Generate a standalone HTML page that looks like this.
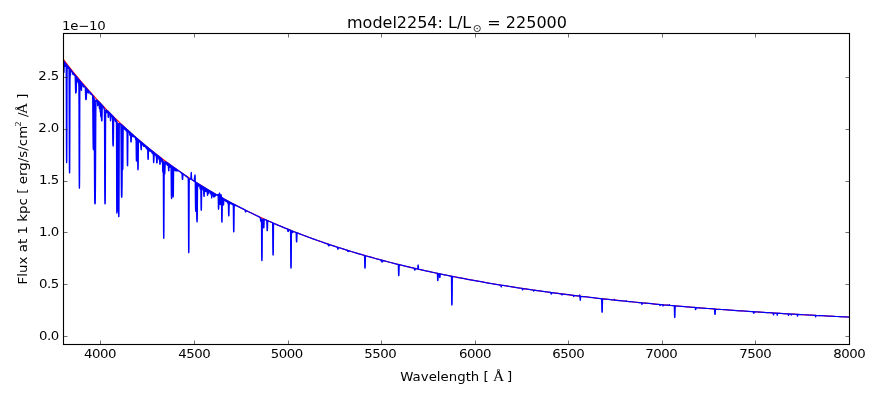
<!DOCTYPE html>
<html lang="en">
<head>
<meta charset="utf-8">
<title>model2254: L/L⊙ = 225000</title>
<style>
html,body{margin:0;padding:0;background:#fff;}
body{width:880px;height:400px;overflow:hidden;}
svg{display:block;}
text{font-family:"DejaVu Sans","Liberation Sans",sans-serif;font-size:13.33px;fill:#000;}
.t{font-size:16px;}
.s{font-family:"DejaVu Serif","Liberation Serif",serif;}
.a{font-family:"Liberation Serif","DejaVu Serif",serif;}
</style>
</head>
<body>
<svg width="880" height="400" viewBox="0 0 880 400">
<rect x="0" y="0" width="880" height="400" fill="#ffffff"/>
<clipPath id="c"><rect x="63.5" y="33.5" width="786.0" height="311.0"/></clipPath>
<g clip-path="url(#c)" fill="none" stroke-linejoin="round" stroke-linecap="butt">
<path d="M63.5,59.58 L65.5,62.19 L67.5,64.77 L69.5,67.31 L71.5,69.83 L73.5,72.32 L75.5,74.79 L77.5,77.22 L79.5,79.62 L81.5,82.00 L83.5,84.35 L85.5,86.68 L87.5,88.97 L89.5,91.25 L91.5,93.49 L93.5,95.71 L95.5,97.91 L97.5,100.08 L99.5,102.23 L101.5,104.35 L103.5,106.45 L105.5,108.52 L107.5,110.57 L109.5,112.60 L111.5,114.61 L113.5,116.60 L115.5,118.56 L117.5,120.50 L119.5,122.42 L121.5,124.32 L123.5,126.20 L125.5,128.06 L127.5,129.89 L129.5,131.71 L131.5,133.51 L133.5,135.29 L135.5,137.05 L137.5,138.79 L139.5,140.51 L141.5,142.21 L143.5,143.89 L145.5,145.56 L147.5,147.21 L149.5,148.84 L151.5,150.45 L153.5,152.05 L155.5,153.63 L157.5,155.19 L159.5,156.74 L161.5,158.27 L163.5,159.78 L165.5,161.28 L167.5,162.77 L169.5,164.23 L171.5,165.68 L173.5,167.12 L175.5,168.54 L177.5,169.95 L179.5,171.34 L181.5,172.72 L183.5,174.08 L185.5,175.43 L187.5,176.77 L189.5,178.09 L191.5,179.40 L193.5,180.70 L195.5,181.98 L197.5,183.25 L199.5,184.50 L201.5,185.75 L203.5,186.98 L205.5,188.19 L207.5,189.40 L209.5,190.60 L211.5,191.78 L213.5,192.95 L215.5,194.11 L217.5,195.25 L219.5,196.39 L221.5,197.51 L223.5,198.63 L225.5,199.73 L227.5,200.82 L229.5,201.90 L231.5,202.97 L233.5,204.03 L235.5,205.08 L237.5,206.11 L239.5,207.14 L241.5,208.16 L243.5,209.17 L245.5,210.17 L247.5,211.16 L249.5,212.14 L251.5,213.11 L253.5,214.07 L255.5,215.02 L257.5,215.96 L259.5,216.89 L261.5,217.82 L263.5,218.73 L265.5,219.64 L267.5,220.54 L269.5,221.42 L271.5,222.31 L273.5,223.18 L275.5,224.04 L277.5,224.90 L279.5,225.75 L281.5,226.59 L283.5,227.42 L285.5,228.24 L287.5,229.06 L289.5,229.87 L291.5,230.67 L293.5,231.46 L295.5,232.25 L297.5,233.03 L299.5,233.80 L301.5,234.57 L303.5,235.32 L305.5,236.07 L307.5,236.82 L309.5,237.56 L311.5,238.29 L313.5,239.01 L315.5,239.73 L317.5,240.44 L319.5,241.14 L321.5,241.84 L323.5,242.53 L325.5,243.22 L327.5,243.89 L329.5,244.57 L331.5,245.23 L333.5,245.89 L335.5,246.55 L337.5,247.20 L339.5,247.84 L341.5,248.48 L343.5,249.11 L345.5,249.74 L347.5,250.36 L349.5,250.97 L351.5,251.58 L353.5,252.19 L355.5,252.78 L357.5,253.38 L359.5,253.97 L361.5,254.55 L363.5,255.13 L365.5,255.70 L367.5,256.27 L369.5,256.83 L371.5,257.39 L373.5,257.94 L375.5,258.49 L377.5,259.03 L379.5,259.57 L381.5,260.11 L383.5,260.64 L385.5,261.16 L387.5,261.68 L389.5,262.20 L391.5,262.71 L393.5,263.22 L395.5,263.72 L397.5,264.22 L399.5,264.71 L401.5,265.21 L403.5,265.69 L405.5,266.17 L407.5,266.65 L409.5,267.13 L411.5,267.60 L413.5,268.06 L415.5,268.52 L417.5,268.98 L419.5,269.44 L421.5,269.89 L423.5,270.33 L425.5,270.78 L427.5,271.22 L429.5,271.65 L431.5,272.08 L433.5,272.51 L435.5,272.94 L437.5,273.36 L439.5,273.78 L441.5,274.19 L443.5,274.60 L445.5,275.01 L447.5,275.42 L449.5,275.82 L451.5,276.21 L453.5,276.61 L455.5,277.00 L457.5,277.39 L459.5,277.77 L461.5,278.16 L463.5,278.54 L465.5,278.91 L467.5,279.28 L469.5,279.65 L471.5,280.02 L473.5,280.38 L475.5,280.75 L477.5,281.10 L479.5,281.46 L481.5,281.81 L483.5,282.16 L485.5,282.51 L487.5,282.85 L489.5,283.19 L491.5,283.53 L493.5,283.87 L495.5,284.20 L497.5,284.53 L499.5,284.86 L501.5,285.19 L503.5,285.51 L505.5,285.83 L507.5,286.15 L509.5,286.46 L511.5,286.78 L513.5,287.09 L515.5,287.40 L517.5,287.70 L519.5,288.00 L521.5,288.31 L523.5,288.60 L525.5,288.90 L527.5,289.20 L529.5,289.49 L531.5,289.78 L533.5,290.06 L535.5,290.35 L537.5,290.63 L539.5,290.91 L541.5,291.19 L543.5,291.47 L545.5,291.74 L547.5,292.02 L549.5,292.29 L551.5,292.56 L553.5,292.82 L555.5,293.09 L557.5,293.35 L559.5,293.61 L561.5,293.87 L563.5,294.12 L565.5,294.38 L567.5,294.63 L569.5,294.88 L571.5,295.13 L573.5,295.38 L575.5,295.62 L577.5,295.87 L579.5,296.11 L581.5,296.35 L583.5,296.59 L585.5,296.82 L587.5,297.06 L589.5,297.29 L591.5,297.52 L593.5,297.75 L595.5,297.98 L597.5,298.20 L599.5,298.43 L601.5,298.65 L603.5,298.87 L605.5,299.09 L607.5,299.31 L609.5,299.53 L611.5,299.74 L613.5,299.95 L615.5,300.17 L617.5,300.38 L619.5,300.59 L621.5,300.79 L623.5,301.00 L625.5,301.20 L627.5,301.41 L629.5,301.61 L631.5,301.81 L633.5,302.01 L635.5,302.20 L637.5,302.40 L639.5,302.59 L641.5,302.79 L643.5,302.98 L645.5,303.17 L647.5,303.36 L649.5,303.54 L651.5,303.73 L653.5,303.91 L655.5,304.10 L657.5,304.28 L659.5,304.46 L661.5,304.64 L663.5,304.82 L665.5,305.00 L667.5,305.17 L669.5,305.35 L671.5,305.52 L673.5,305.69 L675.5,305.86 L677.5,306.03 L679.5,306.20 L681.5,306.37 L683.5,306.54 L685.5,306.70 L687.5,306.87 L689.5,307.03 L691.5,307.19 L693.5,307.35 L695.5,307.51 L697.5,307.67 L699.5,307.83 L701.5,307.99 L703.5,308.14 L705.5,308.30 L707.5,308.45 L709.5,308.60 L711.5,308.75 L713.5,308.90 L715.5,309.05 L717.5,309.20 L719.5,309.35 L721.5,309.49 L723.5,309.64 L725.5,309.78 L727.5,309.93 L729.5,310.07 L731.5,310.21 L733.5,310.35 L735.5,310.49 L737.5,310.63 L739.5,310.77 L741.5,310.90 L743.5,311.04 L745.5,311.18 L747.5,311.31 L749.5,311.44 L751.5,311.57 L753.5,311.71 L755.5,311.84 L757.5,311.97 L759.5,312.10 L761.5,312.22 L763.5,312.35 L765.5,312.48 L767.5,312.60 L769.5,312.73 L771.5,312.85 L773.5,312.97 L775.5,313.10 L777.5,313.22 L779.5,313.34 L781.5,313.46 L783.5,313.58 L785.5,313.70 L787.5,313.81 L789.5,313.93 L791.5,314.05 L793.5,314.16 L795.5,314.28 L797.5,314.39 L799.5,314.51 L801.5,314.62 L803.5,314.73 L805.5,314.84 L807.5,314.95 L809.5,315.06 L811.5,315.17 L813.5,315.28 L815.5,315.39 L817.5,315.49 L819.5,315.60 L821.5,315.70 L823.5,315.81 L825.5,315.91 L827.5,316.02 L829.5,316.12 L831.5,316.22 L833.5,316.32 L835.5,316.43 L837.5,316.53 L839.5,316.63 L841.5,316.72 L843.5,316.82 L845.5,316.92 L847.5,317.02 L849.5,317.11" stroke="#ff0000" stroke-width="1.1"/>
<path d="M63.50,67.65L63.55,69.68L63.60,71.06L63.65,71.82L63.70,72.15L63.75,72.27L63.80,72.33L63.85,72.40L63.90,72.42L63.95,72.22L64.00,71.59L64.05,70.33L64.10,68.42L64.15,66.15L64.20,64.11L64.25,62.79L64.30,62.21L64.35,62.08L64.40,62.11L64.45,62.17L64.50,62.25L64.55,62.35L64.60,62.51L64.65,62.74L64.70,63.07L64.75,63.48L64.80,63.94L64.85,64.40L64.90,64.82L64.95,65.18L65.00,65.61L65.05,66.05L65.10,66.27L65.15,66.38L65.20,66.44L65.25,66.39L65.30,66.20L65.35,66.14L65.50,66.26L65.55,66.25L65.60,66.17L65.65,66.02L65.70,65.80L65.75,65.50L65.80,65.16L65.85,64.83L65.90,64.54L65.95,64.34L66.00,64.23L66.05,64.26L66.10,64.95L66.15,67.42L66.20,73.48L66.25,85.87L66.30,104.44L66.35,124.79L66.40,141.82L66.45,153.33L66.50,159.54L66.55,161.99L66.60,162.59L66.65,162.67L66.70,162.67L66.75,162.14L66.80,159.78L66.85,153.64L66.90,141.93L66.95,124.48L67.00,103.97L67.05,85.51L67.10,73.48L67.15,68.08L67.20,66.51L67.25,66.37L67.30,66.59L67.35,66.78L67.40,66.94L67.45,67.24L67.50,67.51L67.55,67.69L67.70,67.94L67.75,68.11L67.80,68.27L67.85,68.31L67.90,68.26L67.95,68.09L68.00,67.75L68.05,67.31L68.10,67.01L68.15,66.84L68.20,66.80L68.35,66.95L68.50,67.14L68.55,67.20L68.60,67.27L68.65,67.40L68.70,67.83L68.75,68.24L68.80,68.38L68.85,68.44L68.90,68.48L68.95,68.44L69.00,69.21L69.05,73.15L69.10,82.71L69.15,98.84L69.20,119.19L69.25,139.20L69.30,154.98L69.35,165.12L69.40,170.35L69.45,172.38L69.50,172.89L69.55,172.95L69.60,172.96L69.65,172.53L69.70,170.58L69.75,165.45L69.80,155.50L69.85,140.19L69.90,121.11L69.95,102.06L70.00,87.39L70.05,79.10L70.10,75.84L70.15,74.98L70.20,74.90L70.35,75.09L70.40,75.12L70.45,75.05L70.50,74.86L70.55,74.36L70.60,73.45L70.65,72.32L70.70,71.30L70.75,70.58L70.80,70.17L70.85,70.08L71.60,70.98L71.65,71.04L71.70,71.12L71.75,71.27L71.80,71.40L71.95,71.59L72.00,71.58L72.05,71.58L72.10,71.67L72.25,72.14L72.30,72.29L72.35,72.42L72.50,72.67L72.55,72.74L72.60,72.84L72.65,73.33L72.70,73.97L72.75,74.21L72.80,74.26L72.85,74.25L72.90,73.92L72.95,73.26L73.00,72.96L73.05,72.90L73.10,72.89L73.15,72.90L73.20,72.95L73.25,73.15L73.30,73.56L73.35,73.80L73.40,73.88L73.45,73.94L73.50,73.90L73.55,73.64L73.60,73.46L73.65,73.53L73.70,73.67L73.75,73.86L73.90,74.56L73.95,74.73L74.00,74.86L74.15,75.10L74.30,75.27L74.35,75.32L74.40,75.34L74.55,75.29L74.60,75.25L74.65,75.15L74.80,75.00L74.85,74.96L74.90,75.00L74.95,75.08L75.00,75.20L75.05,75.42L75.10,75.85L75.15,76.58L75.20,77.73L75.25,79.30L75.30,81.22L75.35,83.33L75.40,85.42L75.45,87.34L75.50,89.16L75.55,90.94L75.60,92.10L75.65,92.70L75.70,93.04L75.75,93.06L75.80,92.66L75.85,92.35L75.90,92.36L75.95,92.42L76.00,92.46L76.05,92.47L76.10,92.38L76.15,92.16L76.20,91.84L76.25,91.35L76.30,90.36L76.35,88.90L76.40,87.12L76.45,85.05L76.50,82.80L76.55,80.85L76.60,79.39L76.65,78.37L76.70,77.76L76.75,77.47L76.80,77.42L76.85,77.59L76.90,78.01L76.95,78.64L77.00,79.34L77.05,79.94L77.10,80.36L77.15,80.61L77.30,80.95L77.35,81.35L77.40,81.69L77.45,81.73L77.50,81.60L77.55,81.25L77.60,80.49L77.65,79.56L77.70,78.96L77.75,78.64L77.80,78.52L77.85,78.53L78.00,78.69L78.15,78.89L78.20,79.02L78.25,79.38L78.30,80.06L78.35,80.98L78.40,81.95L78.45,82.79L78.50,83.33L78.55,83.59L78.60,83.70L78.75,83.92L78.80,84.15L78.85,85.23L78.90,89.06L78.95,98.27L79.00,113.98L79.05,134.00L79.10,153.88L79.15,169.73L79.20,180.06L79.25,185.49L79.30,187.61L79.35,188.13L79.40,188.19L79.45,188.15L79.50,187.60L79.55,185.53L79.60,180.22L79.65,169.88L79.70,153.75L79.75,133.31L79.80,112.59L79.85,96.40L79.90,87.27L79.95,84.09L80.00,83.94L80.05,84.59L80.10,85.18L80.15,85.66L80.20,85.97L80.25,86.08L80.30,86.14L80.35,86.18L80.40,86.10L80.45,85.88L80.50,85.61L80.55,85.14L80.60,84.41L80.65,83.54L80.70,82.76L80.75,82.29L80.80,82.21L80.85,82.60L80.90,83.52L80.95,84.90L81.00,86.43L81.05,87.73L81.10,88.63L81.15,89.13L81.20,89.35L81.25,89.45L81.30,89.64L81.35,90.11L81.40,90.41L81.45,90.34L81.50,89.96L81.55,89.09L81.60,87.54L81.65,85.76L81.70,84.44L81.75,83.61L81.80,83.26L81.85,83.20L82.00,83.35L82.05,83.40L82.10,83.49L82.15,83.77L82.20,84.11L82.25,84.24L82.30,84.30L82.35,84.34L82.40,84.22L82.45,83.98L82.50,83.92L82.85,84.33L82.90,84.45L82.95,84.81L83.10,86.24L83.15,86.62L83.20,86.77L83.25,86.74L83.40,86.90L83.45,86.96L83.50,87.00L83.55,87.01L83.60,86.94L83.65,86.77L83.70,86.47L83.75,86.18L83.80,86.18L83.85,86.27L84.00,86.31L84.05,86.11L84.10,85.83L84.15,85.80L84.50,86.19L84.55,86.25L84.60,86.33L84.65,86.55L84.70,86.81L84.75,86.92L84.80,86.98L84.85,87.02L84.90,86.95L84.95,86.78L85.00,86.76L85.05,86.83L85.10,86.93L85.15,87.10L85.20,87.42L85.25,87.95L85.30,88.78L85.35,89.91L85.40,91.28L85.45,92.79L85.50,94.29L85.55,95.65L85.60,96.79L85.65,97.68L85.70,98.32L85.75,98.87L85.80,99.30L85.85,99.51L85.90,99.60L85.95,99.66L86.00,99.61L86.05,99.48L86.10,99.45L86.15,99.46L86.20,99.42L86.25,99.27L86.30,98.95L86.35,98.43L86.40,97.66L86.45,96.63L86.50,95.38L86.55,94.00L86.60,92.61L86.65,91.35L86.70,90.34L86.75,89.63L86.80,89.21L86.85,89.01L86.90,88.95L86.95,88.98L87.10,89.26L87.25,89.55L87.30,89.70L87.35,89.96L87.50,90.99L87.55,91.32L87.60,91.60L87.65,91.82L87.70,92.00L87.75,92.13L87.90,92.36L88.05,92.54L88.10,92.72L88.15,92.95L88.20,93.05L88.25,93.06L88.30,93.03L88.35,92.87L88.40,92.56L88.55,91.85L88.60,91.60L88.65,91.39L88.70,91.22L88.75,91.12L88.80,91.08L88.85,91.08L88.90,91.11L88.95,91.18L89.00,91.45L89.05,91.81L89.10,91.97L89.15,92.03L89.20,92.07L89.25,91.96L89.30,91.68L89.35,91.59L89.70,91.97L89.85,92.13L89.90,92.21L89.95,92.42L90.00,92.82L90.05,93.21L90.10,93.53L90.15,93.81L90.20,93.95L90.25,93.91L90.30,93.87L90.45,94.03L90.50,94.08L90.55,94.11L90.60,94.11L90.65,94.03L90.70,93.87L90.75,93.67L90.80,93.48L90.85,93.35L90.90,93.32L91.05,93.46L91.40,93.86L91.55,94.04L91.60,94.10L91.65,94.27L91.70,94.58L91.75,94.77L91.80,94.84L91.85,94.89L91.90,94.87L91.95,94.70L92.00,94.59L92.35,95.02L92.50,95.23L92.55,95.37L92.60,95.71L92.65,96.54L92.70,98.37L92.75,101.96L92.80,107.43L92.85,114.10L92.90,121.52L92.95,128.95L93.00,135.41L93.05,140.37L93.10,144.11L93.15,146.68L93.20,148.19L93.25,148.96L93.30,149.29L93.35,149.42L93.40,149.50L93.45,149.57L93.50,149.59L93.55,149.40L93.60,148.79L93.65,147.44L93.70,145.02L93.75,141.26L93.80,136.06L93.85,129.65L93.90,122.63L93.95,115.99L94.00,110.92L94.05,108.46L94.10,109.22L94.15,113.26L94.20,120.19L94.25,129.31L94.30,139.84L94.35,150.97L94.40,161.90L94.45,171.97L94.50,180.71L94.55,187.87L94.60,193.42L94.65,197.57L94.70,200.47L94.75,202.25L94.80,203.25L94.85,203.75L94.90,203.89L94.95,203.83L95.00,203.81L95.05,203.83L95.10,203.79L95.15,203.62L95.20,203.17L95.25,202.23L95.30,200.55L95.35,197.89L95.40,194.10L95.45,188.99L95.50,182.11L95.55,173.54L95.60,163.63L95.65,152.73L95.70,141.36L95.75,130.66L95.80,121.43L95.85,113.94L95.90,108.36L95.95,104.59L96.00,102.30L96.05,101.05L96.10,100.45L96.15,100.19L96.20,100.09L96.35,100.04L96.50,100.06L96.55,100.07L96.60,100.08L96.65,100.25L96.70,100.71L96.75,101.00L96.80,101.06L96.85,101.08L96.90,100.99L96.95,100.62L97.00,100.30L97.05,100.28L97.20,100.38L97.25,100.42L97.30,100.53L97.35,100.80L97.40,101.36L97.45,102.17L97.50,103.07L97.55,103.87L97.60,104.68L97.65,105.40L97.70,105.68L97.75,105.76L97.80,105.78L97.85,105.62L97.90,105.20L97.95,104.94L98.00,104.71L98.05,104.26L98.10,103.57L98.15,102.76L98.20,102.03L98.25,101.57L98.30,101.47L98.45,101.66L98.50,101.70L98.55,101.67L98.60,101.60L98.65,101.61L98.80,101.75L98.95,101.91L99.00,102.02L99.05,102.27L99.10,102.76L99.15,103.55L99.20,104.71L99.25,106.15L99.30,107.29L99.35,108.01L99.40,108.45L99.45,108.60L99.50,108.40L99.55,108.20L99.70,108.31L99.75,108.30L99.80,108.25L99.85,108.19L99.90,108.27L99.95,108.57L100.00,109.11L100.05,109.79L100.10,110.50L100.15,111.16L100.20,111.68L100.25,112.00L100.30,112.16L100.35,112.23L100.40,112.27L100.45,112.31L100.50,112.44L100.55,112.76L100.60,113.41L100.65,114.37L100.70,115.44L100.75,116.27L100.80,116.65L100.85,116.62L100.90,116.42L100.95,116.26L101.00,116.27L101.05,116.38L101.10,116.45L101.15,116.50L101.20,116.51L101.25,116.39L101.30,116.17L101.35,116.22L101.40,116.83L101.45,117.96L101.50,119.18L101.55,120.07L101.60,120.54L101.65,120.73L101.80,120.88L101.85,120.97L101.90,120.95L101.95,120.61L102.00,119.66L102.05,117.79L102.10,114.94L102.15,111.63L102.20,108.66L102.25,106.71L102.30,105.84L102.35,105.62L102.40,105.63L102.55,105.81L102.60,105.87L102.65,105.95L102.70,106.14L102.75,106.38L102.80,106.50L102.85,106.57L102.90,106.63L102.95,106.60L103.00,106.48L103.05,106.46L103.40,106.97L103.75,107.56L103.80,107.70L103.85,108.11L103.90,108.55L103.95,108.74L104.00,108.85L104.05,108.92L104.10,108.79L104.15,108.52L104.20,108.52L104.25,108.67L104.30,108.96L104.35,109.76L104.40,111.89L104.45,116.61L104.50,124.96L104.55,137.02L104.60,151.54L104.65,166.39L104.70,179.53L104.75,189.71L104.80,196.68L104.85,200.87L104.90,202.94L104.95,203.74L105.00,203.96L105.05,203.97L105.10,203.87L105.15,203.64L105.20,202.90L105.25,200.93L105.30,196.93L105.35,190.10L105.40,180.03L105.45,167.00L105.50,152.29L105.55,137.93L105.60,126.07L105.65,118.03L105.70,113.78L105.75,112.16L105.80,111.81L105.85,111.82L105.90,111.88L105.95,112.16L106.00,112.57L106.05,112.71L106.10,112.70L106.15,112.59L106.20,112.19L106.25,111.42L106.30,110.81L106.35,110.48L106.40,110.31L106.45,110.28L106.60,110.33L106.75,110.42L106.80,110.53L106.85,110.76L107.00,111.77L107.05,112.27L107.10,112.59L107.15,112.66L107.20,112.70L107.25,112.65L107.30,112.33L107.35,111.95L107.40,111.73L107.45,111.48L107.50,111.22L107.55,111.08L107.60,111.07L107.65,111.20L107.80,111.90L107.85,112.07L107.90,112.25L107.95,112.61L108.00,113.34L108.05,114.41L108.10,115.58L108.15,116.54L108.20,117.13L108.25,117.34L108.30,117.31L108.35,117.22L108.40,117.19L108.45,117.20L108.50,117.21L108.55,117.12L108.60,116.82L108.65,116.22L108.70,115.32L108.75,114.30L108.80,113.49L108.85,113.08L108.90,113.01L109.05,113.25L109.20,113.39L109.25,113.41L109.30,113.37L109.35,113.25L109.40,113.08L109.45,112.93L109.50,112.93L109.55,113.02L109.70,113.18L109.75,113.18L109.80,113.13L109.85,113.16L109.90,113.28L109.95,113.55L110.00,113.97L110.05,114.45L110.10,114.90L110.15,115.42L110.20,116.16L110.25,117.18L110.30,118.28L110.35,119.22L110.40,119.94L110.45,120.55L110.50,120.75L110.55,120.51L110.60,120.16L110.65,119.84L110.70,119.42L110.75,118.99L110.80,118.66L110.85,118.11L110.90,117.25L110.95,116.25L111.00,115.35L111.05,114.83L111.10,114.80L111.15,115.15L111.20,115.63L111.25,116.04L111.30,116.29L111.35,116.42L111.50,116.60L111.55,116.66L111.60,116.65L111.65,116.47L111.70,116.14L111.75,115.74L111.80,115.41L111.85,115.29L111.90,115.42L111.95,115.69L112.00,115.99L112.05,116.24L112.10,116.40L112.15,116.49L112.30,116.66L112.35,116.75L112.40,116.94L112.45,117.47L112.50,118.71L112.55,121.04L112.60,124.60L112.65,129.01L112.70,133.58L112.75,137.64L112.80,140.79L112.85,142.93L112.90,144.19L112.95,144.83L113.00,145.12L113.05,145.29L113.10,145.51L113.15,145.80L113.20,146.03L113.25,146.01L113.30,145.54L113.35,144.39L113.40,142.40L113.45,139.64L113.50,136.01L113.55,131.62L113.60,127.20L113.65,123.39L113.70,120.44L113.75,118.46L113.80,117.61L113.85,117.40L113.90,117.39L114.05,117.55L114.10,117.63L114.15,117.77L114.20,118.00L114.25,118.31L114.30,118.63L114.35,119.05L114.40,119.39L114.45,119.52L114.50,119.59L114.55,119.62L114.60,119.52L114.65,119.30L114.70,119.19L114.75,119.07L114.80,118.89L114.85,118.72L114.90,118.65L114.95,118.69L115.00,118.87L115.05,119.22L115.10,119.69L115.15,120.12L115.20,120.43L115.25,120.61L115.40,120.88L115.45,121.19L115.50,121.56L115.55,121.60L115.60,121.39L115.65,121.05L115.70,120.58L115.75,120.05L115.80,119.88L115.95,120.10L116.10,120.36L116.25,120.63L116.30,120.75L116.35,121.14L116.40,122.85L116.45,128.30L116.50,139.97L116.55,157.46L116.60,176.80L116.65,193.27L116.70,204.32L116.75,210.17L116.80,212.48L116.85,213.06L116.90,213.16L116.95,213.19L117.00,212.74L117.05,210.65L117.10,205.34L117.15,195.76L117.20,182.92L117.25,170.88L117.30,165.09L117.35,168.12L117.40,177.56L117.45,188.67L117.50,198.08L117.55,204.57L117.60,208.37L117.65,210.25L117.70,210.96L117.75,211.07L117.80,211.03L117.85,211.03L117.90,210.88L117.95,210.21L118.00,208.39L118.05,204.66L118.10,198.35L118.15,189.09L118.20,177.02L118.25,163.53L118.30,151.57L118.35,145.54L118.40,149.32L118.45,162.75L118.50,180.69L118.55,196.88L118.60,207.95L118.65,213.82L118.70,216.10L118.75,216.63L118.80,216.66L118.85,216.62L118.90,216.08L118.95,213.78L119.00,207.89L119.05,196.70L119.10,180.06L119.15,160.72L119.20,143.35L119.25,131.70L119.30,126.29L119.35,124.63L119.40,124.11L119.45,123.72L119.50,123.62L119.85,123.70L120.20,123.85L120.35,123.93L120.50,124.08L120.65,124.16L120.70,124.18L120.75,124.28L120.80,124.59L120.85,125.35L120.90,127.01L120.95,130.08L121.00,134.97L121.05,141.77L121.10,150.13L121.15,159.44L121.20,168.78L121.25,177.14L121.30,184.00L121.35,189.24L121.40,192.84L121.45,195.00L121.50,196.22L121.55,196.86L121.60,197.12L121.65,197.20L121.70,197.23L121.75,197.26L121.80,197.23L121.85,197.05L121.90,196.49L121.95,195.23L122.00,192.95L122.05,189.33L122.10,184.15L122.15,177.41L122.20,169.79L122.25,162.87L122.30,158.66L122.35,158.17L122.40,160.52L122.45,163.74L122.50,166.28L122.55,167.68L122.60,168.24L122.65,168.50L122.70,168.88L122.75,169.37L122.80,169.55L122.85,168.80L122.90,166.31L122.95,161.34L123.00,153.86L123.05,145.07L123.10,137.09L123.15,131.67L123.20,128.94L123.25,127.75L123.30,127.06L123.35,126.60L123.40,126.41L123.45,126.49L123.50,126.78L123.55,127.20L123.60,127.59L123.65,127.87L123.70,128.03L123.75,128.11L123.90,128.24L123.95,128.25L124.00,128.38L124.05,128.52L124.10,128.33L124.15,128.03L124.20,127.84L124.25,127.64L124.30,127.29L124.35,127.14L124.50,127.27L124.55,127.32L124.60,127.48L124.65,127.91L124.70,128.47L124.75,129.00L124.80,129.42L124.85,129.64L124.90,129.62L124.95,129.51L125.10,129.59L125.15,129.54L125.20,129.36L125.25,129.03L125.30,128.61L125.35,128.29L125.40,128.14L125.45,128.12L125.60,128.25L125.65,128.30L125.70,128.35L125.75,128.50L125.80,129.06L125.85,129.76L125.90,130.31L125.95,130.75L126.00,130.99L126.05,130.85L126.10,130.52L126.15,130.46L126.20,130.51L126.25,130.54L126.30,130.52L126.35,130.40L126.40,130.13L126.45,129.75L126.50,129.41L126.55,129.25L126.60,129.37L126.65,129.73L126.70,130.26L126.75,130.79L126.80,131.18L126.85,131.36L126.90,131.44L126.95,131.60L127.00,132.27L127.05,134.38L127.10,138.85L127.15,145.48L127.20,152.70L127.25,158.69L127.30,162.59L127.35,164.60L127.40,165.39L127.45,165.61L127.50,165.67L127.55,165.75L127.60,165.76L127.65,165.23L127.70,163.37L127.75,159.46L127.80,153.59L127.85,146.58L127.90,140.02L127.95,135.62L128.00,133.57L128.05,132.72L128.10,132.17L128.15,131.84L128.20,131.52L128.25,131.15L128.30,130.90L128.35,130.90L128.40,131.11L128.55,132.05L128.60,132.27L128.65,132.35L128.70,132.40L128.75,132.41L128.80,132.33L128.85,132.20L128.90,132.10L128.95,131.94L129.00,131.72L129.05,131.54L129.10,131.45L129.15,131.45L129.30,131.58L129.35,131.63L129.40,131.67L129.45,131.76L129.50,131.96L129.55,132.41L129.60,133.11L129.65,134.05L129.70,134.76L129.75,135.05L129.80,135.15L129.85,135.16L129.90,134.94L129.95,134.65L130.00,134.55L130.05,134.39L130.10,134.02L130.15,133.48L130.20,132.95L130.25,132.61L130.30,132.53L130.35,132.71L130.40,133.00L130.45,133.15L130.50,133.34L130.55,133.81L130.60,134.68L130.65,135.94L130.70,137.59L130.75,139.25L130.80,140.54L130.85,141.36L130.90,141.76L130.95,141.93L131.00,141.99L131.05,142.03L131.10,142.03L131.15,141.88L131.20,141.39L131.25,140.38L131.30,138.81L131.35,136.95L131.40,135.36L131.45,134.56L131.50,134.60L131.55,135.13L131.60,135.55L131.65,135.76L131.70,135.85L131.75,135.85L131.80,135.71L131.85,135.61L131.90,135.59L131.95,135.51L132.00,135.27L132.05,134.91L132.10,134.53L132.15,134.28L132.20,134.20L132.35,134.31L132.40,134.37L132.45,134.48L132.50,134.74L132.55,135.18L132.60,135.70L132.65,136.13L132.70,136.40L132.75,136.53L132.90,136.69L132.95,136.71L133.00,136.73L133.05,136.84L133.10,136.71L133.15,136.33L133.20,136.07L133.25,136.06L133.30,136.07L133.35,136.11L133.40,136.29L133.45,136.43L133.60,136.60L133.65,136.64L133.70,136.65L133.75,136.59L133.80,136.44L133.85,136.19L133.90,135.95L133.95,135.80L134.00,135.77L134.15,135.89L134.20,135.95L134.25,136.04L134.30,136.23L134.35,136.49L134.40,136.75L134.45,136.94L134.50,137.07L134.55,137.15L134.70,137.28L134.75,137.30L134.80,137.26L134.85,137.15L134.90,136.98L134.95,136.81L135.00,136.71L135.05,136.69L135.20,136.81L135.25,136.86L135.30,136.92L135.35,137.04L135.40,137.36L135.45,137.92L135.50,138.58L135.55,139.14L135.60,139.49L135.65,139.65L135.80,139.81L135.85,139.82L135.90,139.75L135.95,139.56L136.00,139.47L136.05,140.18L136.10,142.50L136.15,146.54L136.20,151.43L136.25,155.74L136.30,158.66L136.35,160.28L136.40,160.96L136.45,161.02L136.50,160.87L136.55,160.84L136.60,160.76L136.65,160.25L136.70,158.88L136.75,156.21L136.80,152.17L136.85,147.38L136.90,143.03L136.95,140.15L137.00,138.85L137.05,138.50L137.10,138.50L137.25,138.65L137.30,138.70L137.35,138.76L137.40,138.96L137.45,139.48L137.50,140.55L137.55,142.74L137.60,146.69L137.65,152.29L137.70,158.37L137.75,163.52L137.80,166.99L137.85,168.82L137.90,169.56L137.95,169.77L138.00,169.57L138.05,169.16L138.10,168.62L138.15,167.66L138.20,165.62L138.25,162.07L138.30,157.00L138.35,151.19L138.40,146.13L138.45,142.95L138.50,141.63L138.55,141.35L138.70,141.45L138.75,141.49L138.80,141.51L138.85,141.45L138.90,141.27L138.95,140.96L139.00,140.60L139.05,140.33L139.10,140.23L139.15,140.36L139.20,140.80L139.25,141.10L139.30,141.19L139.35,141.23L139.40,141.19L139.45,140.93L139.50,140.80L139.55,141.08L139.60,141.48L139.65,141.81L139.70,142.02L139.75,142.13L139.90,142.27L139.95,142.30L140.00,142.27L140.05,142.13L140.10,141.88L140.15,141.60L140.20,141.47L140.25,141.66L140.30,142.10L140.35,142.58L140.40,142.93L140.45,143.12L140.60,143.36L140.65,143.56L140.70,143.93L140.75,144.51L140.80,145.28L140.85,146.19L140.90,147.12L140.95,147.97L141.00,148.62L141.05,149.01L141.10,149.29L141.15,149.65L141.20,149.77L141.25,149.57L141.30,149.25L141.35,148.80L141.40,148.01L141.45,146.99L141.50,145.89L141.55,144.68L141.60,143.67L141.65,143.22L141.70,143.36L141.75,143.77L141.80,144.14L141.85,144.37L141.90,144.47L141.95,144.53L142.00,144.60L142.05,144.84L142.10,145.11L142.15,145.10L142.20,144.86L142.25,144.44L142.30,143.85L142.35,143.25L142.40,143.03L142.45,143.03L142.50,143.07L142.55,143.14L142.60,143.27L142.65,143.54L142.70,143.91L142.75,144.27L142.80,144.52L142.85,144.67L142.90,144.74L143.05,144.87L143.10,144.87L143.15,144.80L143.20,144.62L143.25,144.47L143.30,144.40L143.35,144.34L143.40,144.43L143.45,144.77L143.50,145.24L143.55,145.62L143.60,145.95L143.65,146.19L143.70,146.30L143.85,146.43L143.90,146.42L143.95,146.30L144.00,145.99L144.05,145.51L144.10,145.01L144.15,144.66L144.20,144.56L144.25,144.64L144.30,144.91L144.35,145.31L144.40,145.73L144.45,146.05L144.50,146.24L144.55,146.33L144.70,146.46L144.75,146.46L144.80,146.39L144.85,146.19L144.90,145.88L144.95,145.56L145.00,145.41L145.05,145.54L145.10,145.86L145.15,146.22L145.20,146.49L145.25,146.69L145.30,146.84L145.35,146.92L145.40,146.96L145.45,146.99L145.50,146.97L145.55,146.83L145.60,146.62L145.65,146.35L145.70,146.10L145.75,146.02L145.80,146.21L145.85,146.57L145.90,146.99L145.95,147.55L146.00,147.98L146.05,148.12L146.10,148.17L146.15,148.17L146.20,147.97L146.25,147.63L146.30,147.45L146.35,147.25L146.40,146.96L146.45,146.67L146.50,146.51L146.55,146.60L146.60,146.86L146.65,147.00L146.70,147.05L146.75,147.12L146.80,147.23L146.85,147.43L146.90,147.93L146.95,148.54L147.00,148.99L147.05,149.24L147.10,149.35L147.15,149.40L147.20,149.49L147.25,149.63L147.30,149.65L147.35,149.49L147.40,149.12L147.45,148.54L147.50,147.89L147.55,147.51L147.60,147.57L147.65,148.18L147.70,149.54L147.75,151.57L147.80,153.86L147.85,155.92L147.90,157.48L147.95,158.47L148.00,158.99L148.05,159.21L148.10,159.33L148.15,159.41L148.20,159.40L148.25,159.18L148.30,158.55L148.35,157.25L148.40,155.22L148.45,152.79L148.50,150.55L148.55,149.05L148.60,148.38L148.65,148.21L148.70,148.21L148.75,148.25L148.80,148.33L148.85,148.52L148.90,148.89L148.95,149.40L149.00,149.87L149.05,150.26L149.10,150.61L149.15,150.78L149.20,150.83L149.25,150.87L149.30,150.85L149.35,150.66L149.40,150.40L149.45,150.09L149.50,149.67L149.55,149.28L149.60,149.06L149.65,149.00L149.80,149.10L149.85,149.19L149.90,149.47L149.95,149.83L150.00,150.18L150.05,150.62L150.10,151.05L150.15,151.21L150.20,151.15L150.35,151.26L150.40,151.29L150.45,151.29L150.50,151.20L150.55,150.97L150.60,150.64L150.65,150.31L150.70,150.08L150.75,150.00L150.90,150.02L151.05,150.13L151.10,150.25L151.15,150.50L151.20,150.89L151.25,151.30L151.30,151.62L151.35,151.80L151.40,151.90L151.45,152.03L151.50,152.17L151.55,152.24L151.60,152.25L151.65,152.18L151.70,151.94L151.75,151.52L151.80,151.14L151.85,150.91L151.90,150.86L151.95,150.97L152.00,151.27L152.05,151.71L152.10,152.15L152.15,152.52L152.20,152.97L152.25,153.36L152.30,153.49L152.35,153.54L152.40,153.54L152.45,153.34L152.50,152.90L152.65,151.82L152.70,151.58L152.75,151.51L152.90,151.60L153.05,151.74L153.10,151.87L153.15,152.18L153.20,152.71L153.25,153.40L153.30,154.34L153.35,155.69L153.40,157.47L153.45,159.36L153.50,160.96L153.55,162.03L153.60,162.58L153.65,162.69L153.70,162.49L153.75,162.09L153.80,161.65L153.85,161.27L153.90,160.92L153.95,160.37L154.00,159.36L154.05,157.91L154.10,156.34L154.15,155.09L154.20,154.45L154.25,154.34L154.30,154.43L154.35,154.51L154.40,154.56L154.45,154.59L154.50,154.58L154.55,154.54L154.60,154.45L154.65,154.25L154.70,153.92L154.75,153.55L154.80,153.29L154.85,153.19L154.90,153.20L154.95,153.24L155.00,153.28L155.05,153.36L155.10,153.54L155.15,153.93L155.20,154.43L155.25,154.83L155.30,155.09L155.35,155.22L155.40,155.25L155.45,155.22L155.50,155.23L155.55,155.26L155.60,155.24L155.65,155.11L155.70,154.85L155.75,154.50L155.80,154.19L155.85,154.03L155.90,154.00L155.95,154.03L156.00,154.09L156.05,154.28L156.10,154.90L156.15,155.82L156.20,156.56L156.25,157.06L156.30,157.32L156.35,157.29L156.40,157.15L156.45,157.49L156.50,158.49L156.55,159.94L156.60,161.44L156.65,162.50L156.70,162.93L156.75,162.87L156.80,162.67L156.85,162.57L156.90,162.56L156.95,162.68L157.00,162.88L157.05,162.84L157.10,162.40L157.15,161.51L157.20,160.17L157.25,158.61L157.30,157.48L157.35,157.09L157.40,157.15L157.45,157.33L157.50,157.46L157.65,157.60L157.70,157.62L157.75,157.55L157.80,157.32L157.85,156.91L157.90,156.39L157.95,156.05L158.00,156.21L158.05,156.69L158.10,157.19L158.15,157.63L158.20,157.89L158.25,157.86L158.30,157.70L158.35,157.68L158.40,157.72L158.45,157.75L158.50,157.73L158.55,157.61L158.60,157.43L158.65,157.39L158.70,157.39L158.75,157.46L158.90,157.93L158.95,158.26L159.00,158.85L159.05,159.37L159.10,159.68L159.15,159.79L159.20,159.74L159.25,159.58L159.40,159.02L159.45,158.78L159.50,158.51L159.55,158.48L159.60,159.02L159.65,160.14L159.70,161.47L159.75,162.61L159.80,163.37L159.85,163.81L159.90,164.14L159.95,164.37L160.00,164.41L160.05,164.35L160.10,164.16L160.15,163.71L160.20,162.99L160.25,162.17L160.30,161.19L160.35,160.24L160.40,159.67L160.45,159.61L160.50,159.86L160.55,160.14L160.60,160.30L160.65,160.41L160.70,160.64L160.75,160.87L160.80,160.93L160.85,160.86L160.90,160.60L160.95,160.00L161.00,159.19L161.05,158.63L161.10,158.38L161.15,158.33L161.30,158.46L161.35,158.51L161.40,158.57L161.45,158.69L161.50,158.98L161.55,159.52L161.60,160.22L161.65,160.83L161.70,161.23L161.85,161.97L161.90,162.07L161.95,162.11L162.00,162.04L162.05,161.68L162.10,161.05L162.15,160.42L162.20,159.93L162.25,159.69L162.30,159.66L162.35,159.74L162.40,159.93L162.45,160.48L162.50,161.86L162.55,163.96L162.60,166.26L162.65,168.45L162.70,170.19L162.75,171.23L162.80,171.67L162.85,171.99L162.90,172.20L162.95,172.29L163.00,172.27L163.05,172.08L163.10,171.70L163.15,171.20L163.20,170.83L163.25,171.36L163.30,174.58L163.35,182.53L163.40,195.21L163.45,209.77L163.50,222.48L163.55,231.16L163.60,235.80L163.65,237.65L163.70,238.11L163.75,238.20L163.80,238.25L163.85,237.83L163.90,235.93L163.95,231.06L164.00,221.85L164.05,208.15L164.10,192.22L164.15,178.17L164.20,169.41L164.25,166.38L164.30,167.02L164.35,169.03L164.40,171.06L164.45,172.55L164.50,173.42L164.55,173.82L164.60,173.93L164.65,173.94L164.70,173.91L164.75,173.85L164.80,173.66L164.85,173.19L164.90,172.33L164.95,171.08L165.00,169.60L165.05,168.01L165.10,166.39L165.15,164.92L165.20,163.78L165.25,163.09L165.30,162.79L165.35,162.69L165.50,162.67L165.55,162.60L165.60,162.47L165.65,162.28L165.70,162.10L165.75,161.99L165.80,161.96L165.95,162.02L166.00,162.05L166.05,162.23L166.10,162.68L166.15,163.15L166.20,163.55L166.25,163.89L166.30,164.03L166.35,163.88L166.40,163.72L166.55,163.77L166.60,163.73L166.65,163.59L166.70,163.33L166.75,162.99L166.80,162.71L166.85,162.57L166.90,162.55L167.05,162.65L167.10,162.86L167.15,163.39L167.20,164.03L167.25,164.68L167.30,165.22L167.35,165.49L167.40,165.41L167.45,165.32L167.60,165.38L167.65,165.30L167.70,165.06L167.75,164.61L167.80,164.04L167.85,163.61L167.90,163.43L167.95,163.40L168.00,163.42L168.05,163.44L168.10,163.43L168.15,163.39L168.20,163.42L168.25,163.57L168.30,164.02L168.35,164.97L168.40,166.37L168.45,167.86L168.50,169.06L168.55,169.82L168.60,170.28L168.65,170.62L168.70,170.78L168.75,170.82L168.80,170.80L168.85,170.61L168.90,170.07L168.95,169.27L169.00,168.29L169.05,167.17L169.10,166.06L169.15,165.20L169.20,164.87L169.25,165.21L169.30,166.09L169.35,166.87L169.40,167.26L169.45,167.43L169.50,167.45L169.55,167.25L169.60,167.01L169.65,166.95L169.70,166.86L169.75,166.58L169.80,166.08L169.85,165.47L169.90,164.97L169.95,164.72L170.00,164.67L170.15,164.77L170.20,164.91L170.25,165.18L170.30,165.59L170.35,166.15L170.40,166.73L170.45,167.11L170.50,167.23L170.65,167.36L170.70,167.39L170.75,167.37L170.80,167.25L170.95,166.46L171.00,166.68L171.05,168.37L171.10,172.27L171.15,178.06L171.20,184.50L171.25,190.10L171.30,193.90L171.35,195.99L171.40,197.03L171.45,197.64L171.50,198.14L171.55,198.49L171.60,198.53L171.65,197.87L171.70,195.97L171.75,192.30L171.80,186.81L171.85,180.33L171.90,174.38L171.95,170.21L172.00,167.96L172.05,167.03L172.10,166.74L172.15,166.63L172.20,166.62L172.25,166.64L172.30,166.58L172.35,166.42L172.40,166.37L172.45,166.41L172.50,166.47L172.55,166.63L172.60,166.94L172.65,167.45L172.70,168.35L172.75,170.31L172.80,174.19L172.85,179.98L172.90,186.21L172.95,191.41L173.00,194.89L173.05,196.64L173.10,197.07L173.15,196.88L173.20,196.58L173.25,196.31L173.30,195.99L173.35,195.23L173.40,193.41L173.45,189.95L173.50,184.86L173.55,179.06L173.60,173.88L173.65,170.67L173.70,169.68L173.75,169.86L173.80,170.10L173.85,170.20L173.90,170.31L174.05,170.42L174.10,170.40L174.15,170.24L174.20,169.85L174.25,169.23L174.30,168.55L174.35,168.06L174.40,167.87L174.45,167.91L174.50,168.17L174.55,168.71L174.60,169.33L174.65,169.83L174.70,170.14L174.75,170.28L174.90,170.29L174.95,170.30L175.00,170.23L175.05,170.02L175.10,169.62L175.15,169.11L175.20,168.69L175.25,168.48L175.30,168.46L175.35,168.57L175.40,168.85L175.45,169.33L175.50,169.98L175.55,170.51L175.60,170.76L175.65,170.86L175.70,170.88L175.75,170.79L175.80,170.64L175.85,170.59L175.90,170.50L175.95,170.27L176.00,169.89L176.05,169.47L176.10,169.18L176.15,169.07L176.20,169.07L176.25,169.21L176.30,169.52L176.35,169.72L176.40,169.80L176.45,169.91L176.50,170.06L176.55,170.12L176.60,170.26L176.65,170.53L176.70,170.74L176.75,170.87L176.80,170.94L176.95,171.06L177.00,171.08L177.15,171.02L177.20,171.09L177.25,170.96L177.30,170.73L177.35,170.58L177.40,170.43L177.45,170.16L177.50,169.99L178.25,170.49L178.40,170.63L179.15,171.12L179.30,171.23L179.35,171.27L179.40,171.35L179.45,171.46L179.60,171.58L179.75,171.54L180.10,171.78L180.45,172.02L180.50,172.10L180.55,172.28L180.60,172.42L180.65,172.47L180.70,172.51L180.75,172.51L180.80,172.42L180.85,172.32L181.00,172.40L181.35,172.64L181.40,172.70L181.45,172.94L181.50,173.25L181.55,173.37L181.60,173.41L181.65,173.43L181.70,173.31L181.75,173.05L181.80,172.96L181.95,173.08L182.00,173.22L182.05,173.63L182.10,174.55L182.15,175.86L182.20,177.18L182.25,178.29L182.30,179.03L182.35,179.34L182.50,179.43L182.55,179.46L182.60,179.46L182.65,179.35L182.70,179.00L182.75,178.31L182.80,177.27L182.85,176.05L182.90,174.95L182.95,174.23L183.00,173.92L183.05,173.84L183.40,174.06L183.75,174.30L183.90,174.40L183.95,174.44L184.00,174.49L184.05,174.64L184.10,174.82L184.15,174.89L184.20,174.93L184.25,174.96L184.30,174.90L184.35,174.78L184.40,174.75L185.15,175.28L185.20,175.31L185.25,175.41L185.30,175.61L185.35,175.75L185.40,175.80L185.45,175.84L185.50,175.83L185.55,175.72L185.60,175.62L185.95,175.86L186.00,175.89L186.05,175.94L186.10,176.16L186.15,176.52L186.20,176.69L186.25,176.74L186.30,176.77L186.35,176.68L186.40,176.40L186.45,176.25L186.80,176.53L187.15,176.84L187.50,177.21L187.85,177.68L187.90,177.81L187.95,177.98L188.10,178.26L188.15,178.33L188.20,178.56L188.25,179.91L188.30,184.30L188.35,193.68L188.40,207.74L188.45,223.30L188.50,236.54L188.55,245.44L188.60,250.14L188.65,251.99L188.70,252.46L188.75,252.60L188.80,252.73L188.85,252.36L188.90,250.55L188.95,245.90L189.00,237.02L189.05,223.68L189.10,208.12L189.15,194.15L189.20,184.86L189.25,180.55L189.30,179.24L189.35,178.98L189.50,178.89L189.55,178.93L189.60,179.17L189.65,179.38L189.70,179.42L189.75,179.41L189.80,179.37L189.85,179.17L189.90,178.91L189.95,178.85L190.30,178.93L190.45,178.99L190.60,179.03L190.65,179.08L190.70,179.08L190.75,178.97L190.80,178.74L190.85,178.37L190.90,177.77L190.95,176.97L191.00,176.05L191.05,175.03L191.10,174.02L191.15,173.16L191.20,172.58L191.25,172.41L191.30,172.70L191.35,173.37L191.40,174.30L191.45,175.36L191.50,176.42L191.55,177.33L191.60,178.07L191.65,178.66L191.70,179.08L191.75,179.36L191.80,179.54L191.85,179.65L192.00,179.81L192.35,180.03L192.50,180.12L192.55,180.21L192.60,180.34L192.65,180.41L192.70,180.44L192.75,180.47L192.80,180.46L192.85,180.38L192.90,180.36L193.05,180.45L193.20,180.53L193.35,180.72L193.50,180.73L193.55,180.66L193.60,180.61L193.75,180.52L193.90,180.32L194.05,179.96L194.10,179.81L194.15,179.63L194.20,179.43L194.25,179.20L194.40,178.41L194.55,177.54L194.70,176.58L194.75,176.26L194.80,175.94L194.85,175.66L194.90,175.41L194.95,175.20L195.00,175.04L195.05,174.99L195.10,175.26L195.15,176.36L195.20,178.96L195.25,183.39L195.30,189.23L195.35,195.43L195.40,200.88L195.45,204.95L195.50,207.57L195.55,209.05L195.60,209.83L195.65,210.29L195.70,210.68L195.75,211.05L195.80,211.33L195.85,211.26L195.90,210.44L195.95,208.44L196.00,204.96L196.05,200.06L196.10,194.40L196.15,189.14L196.20,185.40L196.25,183.54L196.30,183.23L196.35,184.07L196.40,186.08L196.45,189.50L196.50,194.35L196.55,200.15L196.60,206.05L196.65,211.22L196.70,215.13L196.75,217.65L196.80,219.04L196.85,219.80L196.90,220.42L196.95,221.06L197.00,221.56L197.05,221.85L197.10,221.93L197.15,221.68L197.20,220.85L197.25,219.25L197.30,216.60L197.35,212.63L197.40,207.36L197.45,201.22L197.50,195.09L197.55,190.14L197.60,186.89L197.65,185.09L197.70,184.32L197.75,184.06L197.80,183.86L197.85,183.62L197.90,183.71L197.95,184.11L198.00,184.70L198.05,185.26L198.10,185.66L198.15,185.87L198.20,185.95L198.35,186.07L198.40,186.19L198.45,186.22L198.50,185.91L198.55,185.40L198.60,184.88L198.65,184.44L198.70,184.12L198.75,184.05L198.80,184.10L198.85,184.22L198.90,184.43L198.95,184.72L199.00,184.99L199.05,185.18L199.10,185.28L199.25,185.40L199.30,185.42L199.35,185.42L199.40,185.37L199.45,185.21L199.50,184.99L199.55,184.78L199.60,184.66L199.65,184.63L199.70,184.65L199.75,184.78L199.80,185.16L199.85,185.93L199.90,186.92L199.95,187.80L200.00,188.36L200.05,188.64L200.10,188.76L200.15,188.80L200.20,188.82L200.25,188.82L200.30,188.67L200.35,188.27L200.40,187.55L200.45,186.62L200.50,185.81L200.55,185.36L200.60,185.23L200.65,185.24L200.70,185.34L200.75,185.76L200.80,187.08L200.85,189.92L200.90,194.27L200.95,199.32L201.00,203.92L201.05,207.23L201.10,209.12L201.15,209.94L201.20,210.18L201.25,210.23L201.30,210.25L201.35,210.20L201.40,209.88L201.45,208.54L201.50,205.61L201.55,201.13L201.60,195.86L201.65,191.17L201.70,188.42L201.75,187.89L201.80,188.45L201.85,189.11L201.90,189.52L201.95,189.69L202.00,189.76L202.05,189.88L202.10,190.02L202.15,190.02L202.20,189.82L202.25,189.31L202.30,188.44L202.35,187.43L202.40,186.72L202.45,186.43L202.50,186.38L202.65,186.46L202.70,186.51L202.75,186.61L202.80,186.78L202.85,187.08L202.90,187.48L202.95,187.85L203.00,188.08L203.05,188.18L203.20,188.29L203.25,188.32L203.30,188.30L203.35,188.19L203.40,187.95L203.45,187.64L203.50,187.46L203.55,187.72L203.60,188.65L203.65,190.14L203.70,191.79L203.75,193.22L203.80,194.24L203.85,195.03L203.90,195.76L203.95,196.20L204.00,196.43L204.05,196.54L204.10,196.47L204.15,196.05L204.20,195.42L204.25,194.51L204.30,193.15L204.35,191.49L204.40,189.91L204.45,188.73L204.50,188.06L204.55,187.85L204.60,188.02L204.65,188.46L204.70,188.98L204.75,189.39L204.80,189.63L204.85,189.74L205.00,189.84L205.05,189.84L205.10,189.75L205.15,189.52L205.20,189.12L205.25,188.67L205.30,188.37L205.35,188.46L205.40,189.00L205.45,189.82L205.50,190.63L205.55,191.17L205.60,191.45L205.65,191.56L205.80,191.64L205.85,191.57L205.90,191.31L205.95,190.77L206.00,190.00L206.05,189.26L206.10,188.80L206.15,188.65L206.20,188.64L206.35,188.72L206.40,188.77L206.45,188.92L206.50,189.25L206.55,189.77L206.60,190.29L206.65,190.68L206.70,190.89L206.75,190.98L206.90,191.08L206.95,191.14L207.00,191.23L207.05,191.27L207.10,191.41L207.15,191.81L207.20,192.43L207.25,193.02L207.30,193.54L207.35,194.02L207.40,194.45L207.45,194.83L207.50,195.10L207.55,195.27L207.60,195.32L207.65,195.24L207.70,194.99L207.75,194.47L207.80,193.66L207.85,192.64L207.90,191.62L207.95,190.78L208.00,190.24L208.05,190.11L208.10,190.48L208.15,191.25L208.20,192.25L208.25,193.03L208.30,193.38L208.35,193.51L208.40,193.53L208.45,193.40L208.50,193.20L208.55,193.09L208.60,192.89L208.65,192.43L208.70,191.73L208.75,190.99L208.80,190.47L208.85,190.27L208.90,190.25L208.95,190.27L209.00,190.32L209.05,190.41L209.10,190.61L209.15,190.92L209.20,191.28L209.25,191.61L209.30,191.79L209.35,191.86L209.40,191.89L209.45,191.89L209.60,191.71L209.65,191.56L209.70,191.31L209.75,191.06L209.80,190.89L209.85,190.83L209.90,190.84L209.95,190.91L210.00,191.09L210.05,191.50L210.10,192.07L210.15,192.61L210.20,192.99L210.25,193.19L210.30,193.27L210.35,193.33L210.40,193.54L210.45,193.79L210.50,193.83L210.55,193.66L210.60,193.29L210.65,192.65L210.70,191.91L210.75,191.50L210.80,191.40L210.95,191.46L211.00,191.49L211.05,191.54L211.10,191.69L211.15,192.09L211.20,192.81L211.25,193.63L211.30,194.29L211.35,194.69L211.40,194.92L211.45,195.18L211.50,195.66L211.55,196.36L211.60,197.19L211.65,197.86L211.70,197.99L211.75,197.58L211.80,196.92L211.85,196.28L211.90,195.82L211.95,195.65L212.00,195.64L212.05,195.60L212.10,195.49L212.15,195.40L212.30,195.26L212.35,195.19L212.40,195.14L212.55,195.11L212.60,195.05L212.65,194.92L212.70,194.61L212.75,194.07L212.80,193.43L212.85,192.92L212.90,192.69L212.95,192.64L213.10,192.72L213.15,192.75L213.20,192.84L213.25,193.06L213.30,193.44L213.35,194.15L213.40,195.15L213.45,196.07L213.50,196.61L213.55,196.85L213.60,196.96L213.75,197.03L213.80,196.94L213.85,196.62L213.90,195.95L213.95,195.02L214.00,194.11L214.05,193.55L214.10,193.36L214.15,193.42L214.20,193.67L214.25,194.09L214.30,194.55L214.35,194.91L214.40,195.15L214.45,195.30L214.50,195.39L214.55,195.55L214.60,195.84L214.65,196.23L214.70,196.56L214.75,196.71L214.80,196.62L214.85,196.36L214.90,196.13L214.95,196.02L215.10,196.05L215.15,196.02L215.20,195.92L215.25,195.74L215.30,195.54L215.35,195.38L215.40,195.29L215.45,195.31L215.50,195.41L215.55,195.49L215.60,195.52L215.65,195.55L215.70,195.55L215.75,195.48L215.80,195.37L215.85,195.22L215.90,194.98L215.95,194.71L216.00,194.51L216.05,194.44L216.20,194.49L216.55,194.66L216.70,194.79L216.85,194.83L217.00,194.81L217.35,194.85L217.70,194.82L217.85,194.72L218.00,194.63L218.05,194.64L218.10,194.86L218.15,195.68L218.20,197.50L218.25,200.29L218.30,203.56L218.35,206.35L218.40,208.11L218.45,208.98L218.50,209.26L218.55,209.12L218.60,208.82L218.65,208.68L218.70,208.52L218.75,208.09L218.80,207.10L218.85,205.26L218.90,202.56L218.95,199.40L219.00,196.54L219.05,194.63L219.10,193.84L219.15,193.79L219.20,193.80L219.25,193.76L219.30,193.70L219.35,193.56L219.40,193.27L219.45,193.07L219.50,193.03L219.55,193.02L219.60,193.08L219.65,193.30L219.70,193.84L219.75,194.81L219.80,196.24L219.85,197.97L219.90,199.74L219.95,201.32L220.00,202.54L220.05,203.39L220.10,203.90L220.15,204.18L220.20,204.32L220.35,204.51L220.40,204.56L220.45,204.55L220.50,204.40L220.55,204.01L220.60,203.29L220.65,202.18L220.70,200.73L220.75,199.08L220.80,197.47L220.85,196.16L220.90,195.29L220.95,194.87L221.00,194.74L221.05,194.78L221.20,195.12L221.25,195.25L221.30,195.38L221.35,195.58L221.40,196.15L221.45,197.75L221.50,201.07L221.55,206.01L221.60,211.46L221.65,216.12L221.70,219.28L221.75,220.99L221.80,221.71L221.85,221.95L221.90,222.05L221.95,222.14L222.00,222.08L222.05,221.54L222.10,220.02L222.15,217.05L222.20,212.59L222.25,207.33L222.30,202.59L222.35,199.46L222.40,198.06L222.45,197.68L222.50,197.66L222.85,198.07L222.90,198.23L222.95,198.66L223.00,199.52L223.05,200.78L223.10,202.18L223.15,203.37L223.20,204.19L223.25,204.63L223.30,204.83L223.35,204.90L223.50,204.99L223.55,204.89L223.60,204.54L223.65,203.85L223.70,202.84L223.75,201.63L223.80,200.53L223.85,199.81L223.90,199.49L223.95,199.41L224.10,199.47L224.15,199.47L224.20,199.44L224.25,199.36L224.30,199.34L224.35,199.53L224.40,199.68L224.45,199.72L224.50,199.74L224.55,199.71L224.60,199.50L224.65,199.31L224.70,199.37L224.75,199.58L224.80,199.88L224.85,200.20L224.90,200.43L224.95,200.57L225.00,200.63L225.15,200.71L225.30,200.74L225.35,200.58L225.40,200.33L225.45,200.15L225.50,200.04L225.55,199.89L225.60,199.80L225.65,199.82L225.70,199.92L225.75,200.15L225.80,200.54L225.85,200.97L225.90,201.31L225.95,201.51L226.00,201.60L226.15,201.69L226.20,201.69L226.25,201.62L226.30,201.43L226.35,201.10L226.40,200.74L226.45,200.47L226.50,200.36L226.55,200.35L226.60,200.40L226.65,200.53L226.70,200.76L226.75,201.05L226.80,201.30L226.85,201.45L226.90,201.53L227.05,201.63L227.10,201.64L227.15,201.62L227.20,201.52L227.25,201.33L227.30,201.09L227.35,200.91L227.40,200.91L227.45,201.14L227.50,201.55L227.55,202.09L227.60,202.69L227.65,203.03L227.70,203.13L227.75,203.17L227.80,203.13L227.85,202.92L227.90,202.72L227.95,202.60L228.00,202.38L228.05,202.02L228.10,201.63L228.15,201.35L228.20,201.29L228.25,201.54L228.30,202.44L228.35,204.19L228.40,206.69L228.45,209.43L228.50,211.79L228.55,213.43L228.60,214.46L228.65,215.14L228.70,215.55L228.75,215.76L228.80,215.85L228.85,215.82L228.90,215.53L228.95,214.75L229.00,213.23L229.05,210.94L229.10,208.29L229.15,205.70L229.20,203.74L229.25,202.68L229.30,202.27L229.35,202.04L229.40,201.88L229.45,201.88L229.60,201.97L229.65,202.07L229.70,202.38L229.75,202.85L229.80,203.28L229.85,203.59L229.90,203.76L229.95,203.78L230.00,203.69L230.05,203.67L230.10,203.69L230.15,203.69L230.20,203.63L230.25,203.45L230.30,203.14L230.35,202.80L230.40,202.55L230.45,202.45L230.50,202.44L230.65,202.53L230.70,202.59L230.75,202.72L230.80,202.94L230.85,203.29L230.90,203.65L230.95,203.82L231.00,203.88L231.05,203.91L231.10,203.84L231.15,203.67L231.20,203.59L231.25,203.56L231.30,203.47L231.35,203.32L231.40,203.15L231.45,203.03L231.50,203.05L231.55,203.28L231.60,203.46L231.65,203.52L231.70,203.54L231.75,203.55L231.80,203.45L231.85,203.45L231.90,203.69L231.95,203.95L232.00,204.13L232.05,204.24L232.20,204.34L232.25,204.39L232.30,204.55L232.35,204.69L232.40,204.60L232.45,204.38L232.60,203.65L232.65,203.59L233.00,203.77L233.15,203.86L233.20,203.97L233.25,204.51L233.30,206.18L233.35,209.73L233.40,215.03L233.45,220.90L233.50,225.88L233.55,229.22L233.60,230.99L233.65,231.69L233.70,231.87L233.75,231.90L233.80,231.91L233.85,231.77L233.90,231.11L233.95,229.38L234.00,226.07L234.05,221.13L234.10,215.32L234.15,210.08L234.20,206.60L234.25,205.01L234.30,204.56L234.35,204.62L234.40,204.86L234.45,204.97L234.50,205.00L234.55,205.02L234.60,204.95L234.65,204.76L234.70,204.67L235.05,204.84L235.20,204.92L235.35,205.00L235.40,205.06L235.45,205.29L235.50,205.56L235.55,205.66L235.60,205.69L235.65,205.70L235.70,205.57L235.75,205.32L235.80,205.24L236.15,205.42L236.30,205.58L236.45,205.65L236.50,205.64L236.55,205.63L236.70,205.70L236.85,205.78L236.90,205.84L236.95,205.99L237.00,206.11L237.05,206.15L237.10,206.17L237.15,206.17L237.20,206.10L237.25,206.01L237.60,206.17L237.75,206.25L237.90,206.48L237.95,206.50L238.00,206.53L238.15,206.46L238.50,206.63L238.65,206.71L238.70,206.75L238.75,206.83L238.80,206.89L238.95,206.96L239.00,206.95L239.05,206.93L239.20,206.99L239.25,207.02L239.30,207.07L239.35,207.19L239.40,207.30L239.55,207.38L239.60,207.32L239.65,207.25L240.00,207.40L243.00,208.92L244.50,209.68L244.85,209.85L245.00,209.93L245.05,209.96L245.10,210.01L245.15,210.14L245.20,210.40L245.25,210.76L245.30,211.17L245.35,211.52L245.40,211.76L245.45,211.90L245.50,211.96L245.65,212.05L245.70,212.06L245.75,212.04L245.80,211.95L245.85,211.76L245.90,211.46L245.95,211.11L246.00,210.79L246.05,210.59L246.10,210.51L246.25,210.55L249.25,212.03L252.25,213.49L255.25,214.94L258.25,216.43L259.00,216.84L259.75,217.31L260.10,217.58L260.15,217.62L260.20,217.70L260.25,217.84L260.30,218.12L260.35,218.55L260.40,219.11L260.45,219.70L260.50,220.22L260.55,220.61L260.60,220.87L260.65,221.03L260.70,221.12L260.85,221.31L260.90,221.36L260.95,221.39L261.00,221.35L261.05,221.21L261.10,220.94L261.15,220.55L261.20,220.09L261.25,219.66L261.30,219.36L261.35,219.34L261.40,220.04L261.45,222.48L261.50,227.72L261.55,235.58L261.60,244.26L261.65,251.66L261.70,256.63L261.75,259.26L261.80,260.30L261.85,260.57L261.90,260.60L261.95,260.60L262.00,260.36L262.05,259.35L262.10,256.75L262.15,251.82L262.20,244.48L262.25,235.85L262.30,228.06L262.35,222.87L262.40,220.45L262.45,219.70L262.50,219.54L262.85,219.33L263.00,219.27L263.15,219.24L263.20,219.26L263.25,219.40L263.30,219.90L263.35,220.99L263.40,222.62L263.45,224.44L263.50,225.99L263.55,227.03L263.60,227.57L263.65,227.79L263.70,227.85L263.75,227.85L263.80,227.86L263.85,227.82L263.90,227.61L263.95,227.07L264.00,226.05L264.05,224.51L264.10,222.71L264.15,221.08L264.20,220.00L264.25,219.51L264.30,219.38L264.45,219.39L265.95,219.94L266.30,220.08L266.65,220.23L266.70,220.28L266.75,220.48L266.80,221.10L266.85,222.41L266.90,224.37L266.95,226.53L267.00,228.37L267.05,229.62L267.10,230.28L267.15,230.55L267.20,230.63L267.25,230.65L267.30,230.67L267.35,230.63L267.40,230.40L267.45,229.77L267.50,228.57L267.55,226.77L267.60,224.65L267.65,222.74L267.70,221.48L267.75,220.91L267.80,220.75L267.85,220.74L270.85,222.04L272.35,222.69L272.50,222.77L272.55,222.89L272.60,223.48L272.65,225.37L272.70,229.44L272.75,235.55L272.80,242.31L272.85,248.07L272.90,251.94L272.95,253.98L273.00,254.78L273.05,254.98L273.10,255.01L273.15,255.01L273.20,254.84L273.25,254.07L273.30,252.07L273.35,248.24L273.40,242.53L273.45,235.82L273.50,229.77L273.55,225.75L273.60,223.91L273.65,223.37L273.70,223.29L276.70,224.56L279.70,225.84L282.70,227.09L285.70,228.33L287.20,228.94L287.35,229.01L287.40,229.04L287.45,229.11L287.50,229.24L287.55,229.45L287.60,229.75L287.65,230.11L287.70,230.48L287.75,230.81L287.80,231.06L287.85,231.24L287.90,231.36L287.95,231.42L288.10,231.51L288.25,231.54L288.30,231.52L288.35,231.44L288.40,231.30L288.45,231.09L288.50,230.80L288.55,230.47L288.60,230.16L288.65,229.90L288.70,229.72L288.75,229.64L288.80,229.61L290.30,230.19L290.35,230.21L290.40,230.24L290.45,230.38L290.50,231.07L290.55,233.29L290.60,238.07L290.65,245.25L290.70,253.20L290.75,259.97L290.80,264.51L290.85,266.90L290.90,267.84L290.95,268.07L291.00,268.10L291.05,268.10L291.10,267.90L291.15,266.98L291.20,264.62L291.25,260.11L291.30,253.39L291.35,245.49L291.40,238.37L291.45,233.64L291.50,231.46L291.55,230.82L291.60,230.72L291.95,230.85L292.10,230.94L292.15,231.04L292.20,231.24L292.35,232.11L292.40,232.29L292.45,232.40L292.50,232.45L292.65,232.52L292.70,232.53L292.75,232.52L292.80,232.45L292.85,232.30L293.00,231.55L293.05,231.40L293.10,231.34L293.25,231.37L294.75,231.96L295.50,232.25L295.85,232.39L296.00,232.45L296.05,232.50L296.10,232.68L296.15,233.24L296.20,234.43L296.25,236.20L296.30,238.16L296.35,239.84L296.40,240.96L296.45,241.56L296.50,241.81L296.55,241.88L296.60,241.90L296.65,241.92L296.70,241.88L296.75,241.67L296.80,241.11L296.85,240.02L296.90,238.38L296.95,236.46L297.00,234.73L297.05,233.59L297.10,233.07L297.15,232.93L297.30,232.95L300.30,234.11L303.30,235.25L306.30,236.37L309.30,237.48L312.30,238.58L315.30,239.66L318.30,240.72L321.30,241.77L324.30,242.81L327.30,243.83L328.05,244.10L328.10,244.15L328.15,244.24L328.20,244.40L328.25,244.62L328.40,245.39L328.45,245.58L328.50,245.72L328.55,245.80L328.70,245.90L328.85,245.95L328.90,245.95L328.95,245.93L329.00,245.88L329.05,245.78L329.10,245.63L329.25,244.95L329.30,244.77L329.35,244.64L329.40,244.58L329.55,244.58L332.55,245.58L335.55,246.57L337.05,247.05L337.20,247.10L337.35,247.16L337.40,247.21L337.45,247.33L337.50,247.59L337.55,247.97L337.60,248.38L337.65,248.74L337.70,248.99L337.75,249.12L337.80,249.18L337.95,249.24L338.00,249.25L338.05,249.22L338.10,249.11L338.15,248.90L338.20,248.58L338.25,248.19L338.30,247.85L338.35,247.62L338.40,247.53L338.45,247.51L341.45,248.46L344.45,249.41L345.95,249.88L346.70,250.11L347.05,250.22L347.20,250.26L347.35,250.34L347.40,250.41L347.45,250.51L347.60,251.00L347.65,251.15L347.70,251.27L347.75,251.36L347.90,251.48L348.05,251.53L348.20,251.54L348.25,251.51L348.30,251.46L348.35,251.36L348.50,250.96L348.55,250.85L348.60,250.78L348.65,250.74L349.00,250.82L352.00,251.73L355.00,252.63L358.00,253.53L361.00,254.40L364.00,255.27L364.35,255.37L364.40,255.39L364.45,255.44L364.50,255.68L364.55,256.43L364.60,258.03L364.65,260.43L364.70,263.09L364.75,265.35L364.80,266.87L364.85,267.68L364.90,268.00L364.95,268.08L365.00,268.10L365.05,268.11L365.10,268.05L365.15,267.75L365.20,266.97L365.25,265.48L365.30,263.24L365.35,260.62L365.40,258.25L365.45,256.68L365.50,255.96L365.55,255.76L365.60,255.73L368.60,256.58L371.60,257.42L374.60,258.24L377.60,259.06L380.60,259.87L380.75,259.92L380.90,260.03L380.95,260.10L381.00,260.19L381.05,260.30L381.20,260.75L381.35,261.24L381.50,261.60L381.65,261.80L381.80,261.88L382.15,261.98L382.30,261.99L382.45,261.92L382.60,261.69L382.75,261.32L382.90,260.91L382.95,260.80L383.00,260.72L383.05,260.65L383.20,260.58L384.70,260.95L387.70,261.74L390.70,262.51L393.70,263.27L396.70,264.02L397.45,264.21L397.80,264.29L398.15,264.39L398.20,264.43L398.25,264.64L398.30,265.30L398.35,266.71L398.40,268.83L398.45,271.18L398.50,273.17L398.55,274.52L398.60,275.23L398.65,275.51L398.70,275.59L398.75,275.60L398.80,275.61L398.85,275.55L398.90,275.29L398.95,274.60L399.00,273.28L399.05,271.31L399.10,269.00L399.15,266.91L399.20,265.52L399.25,264.89L399.30,264.70L399.35,264.68L402.35,265.41L405.35,266.14L408.35,266.85L411.35,267.56L412.85,267.91L413.60,268.08L413.95,268.17L414.10,268.22L414.15,268.26L414.20,268.36L414.25,268.52L414.30,268.75L414.45,269.55L414.50,269.75L414.55,269.88L414.60,269.96L414.75,270.05L414.90,270.08L414.95,270.08L415.00,270.05L415.05,269.99L415.10,269.88L415.15,269.71L415.30,268.98L415.35,268.77L415.40,268.64L415.45,268.56L415.60,268.55L417.10,268.89L417.25,268.91L417.40,268.88L417.45,268.83L417.50,268.75L417.55,268.63L417.60,268.45L417.65,268.20L417.70,267.88L417.75,267.49L417.80,267.05L417.85,266.56L417.90,266.08L417.95,265.64L418.00,265.29L418.05,265.07L418.10,265.00L418.15,265.09L418.20,265.34L418.25,265.71L418.30,266.17L418.35,266.68L418.40,267.18L418.45,267.65L418.50,268.06L418.55,268.41L418.60,268.67L418.65,268.88L418.70,269.02L418.75,269.13L418.90,269.28L419.65,269.47L422.65,270.14L425.65,270.81L428.65,271.47L431.65,272.12L434.65,272.76L436.15,273.08L436.90,273.23L437.25,273.33L437.30,273.47L437.35,273.90L437.40,274.82L437.45,276.19L437.50,277.72L437.55,279.01L437.60,279.89L437.65,280.35L437.70,280.54L437.75,280.59L437.80,280.60L437.85,280.61L437.90,280.57L437.95,280.41L438.00,279.96L438.05,279.11L438.10,277.83L438.15,276.33L438.20,274.98L438.25,274.09L438.30,273.68L438.35,273.56L438.70,273.61L439.05,273.68L439.20,273.72L439.25,273.74L439.30,273.81L439.35,274.04L439.40,274.51L439.45,275.22L439.50,276.00L439.55,276.67L439.60,277.12L439.65,277.36L439.70,277.46L439.85,277.51L439.90,277.50L439.95,277.42L440.00,277.20L440.05,276.77L440.10,276.12L440.15,275.36L440.20,274.68L440.25,274.22L440.30,274.02L440.35,273.97L443.35,274.57L446.35,275.18L449.35,275.79L450.85,276.09L451.20,276.16L451.25,276.17L451.30,276.18L451.35,276.29L451.40,276.80L451.45,278.49L451.50,282.13L451.55,287.61L451.60,293.66L451.65,298.82L451.70,302.28L451.75,304.10L451.80,304.81L451.85,304.98L451.90,305.00L451.95,304.99L452.00,304.83L452.05,304.13L452.10,302.32L452.15,298.88L452.20,293.75L452.25,287.72L452.30,282.28L452.35,278.66L452.40,277.00L452.45,276.50L452.50,276.42L455.50,277.00L458.50,277.58L461.50,278.16L464.50,278.72L467.50,279.28L470.50,279.84L473.50,280.38L476.50,280.93L479.50,281.46L482.50,281.99L485.50,282.51L488.50,283.02L491.50,283.53L494.50,284.04L497.50,284.53L500.50,285.02L500.85,285.08L500.90,285.11L500.95,285.24L501.00,285.64L501.05,286.21L501.10,286.66L501.15,286.87L501.20,286.93L501.25,286.95L501.30,286.95L501.35,286.91L501.40,286.71L501.45,286.27L501.50,285.72L501.55,285.34L501.60,285.22L504.60,285.69L507.60,286.16L510.60,286.64L513.60,287.10L516.60,287.56L519.60,288.02L521.10,288.25L521.85,288.36L522.00,288.38L522.15,288.42L522.20,288.53L522.25,288.86L522.30,289.34L522.35,289.71L522.40,289.89L522.45,289.95L522.50,289.96L522.55,289.96L522.60,289.92L522.65,289.76L522.70,289.39L522.75,288.94L522.80,288.62L522.85,288.52L525.85,288.95L528.85,289.39L531.85,289.83L533.35,290.05L533.40,290.13L533.45,290.35L533.50,290.67L533.55,290.93L533.60,291.05L533.75,291.10L533.80,291.08L533.85,290.97L533.90,290.73L533.95,290.42L534.00,290.22L534.05,290.15L537.05,290.57L540.05,290.99L543.05,291.41L546.05,291.82L549.05,292.23L550.55,292.44L550.60,292.48L550.65,292.56L550.70,292.70L550.75,292.90L550.90,293.60L550.95,293.76L551.00,293.88L551.05,293.95L551.20,294.02L551.35,294.03L551.40,294.03L551.45,294.00L551.50,293.94L551.55,293.84L551.60,293.69L551.75,293.03L551.80,292.85L551.85,292.72L551.90,292.65L552.05,292.63L555.05,293.03L558.05,293.42L561.05,293.81L561.40,293.85L561.55,293.87L561.60,293.88L561.65,293.90L561.70,293.97L561.75,294.19L561.80,294.51L561.85,294.77L561.90,294.89L562.05,294.94L562.10,294.91L562.15,294.80L562.20,294.56L562.25,294.26L562.30,294.05L562.35,293.99L565.35,294.36L568.35,294.74L571.35,295.11L572.85,295.30L573.20,295.34L573.35,295.37L573.40,295.45L573.45,295.70L573.50,296.05L573.55,296.32L573.60,296.46L573.65,296.49L573.70,296.50L573.75,296.51L573.80,296.48L573.85,296.36L573.90,296.09L573.95,295.76L574.00,295.53L574.05,295.46L577.05,295.81L578.55,295.99L579.30,296.06L579.35,296.04L579.40,296.00L579.45,295.93L579.50,295.82L579.55,295.65L579.70,294.92L579.75,294.86L579.80,295.15L579.85,295.81L579.90,296.68L579.95,297.54L580.00,298.26L580.05,298.82L580.10,299.25L580.15,299.61L580.20,299.90L580.25,300.14L580.30,300.29L580.35,300.31L580.40,300.11L580.45,299.63L580.50,298.88L580.55,297.97L580.60,297.14L580.65,296.59L580.70,296.34L580.75,296.27L583.75,296.62L586.75,296.97L589.75,297.32L592.75,297.66L595.75,298.01L598.75,298.34L600.25,298.51L601.00,298.60L601.35,298.63L601.50,298.66L601.55,298.70L601.60,298.95L601.65,299.75L601.70,301.46L601.75,304.04L601.80,306.90L601.85,309.33L601.90,310.96L601.95,311.82L602.00,312.16L602.05,312.24L602.10,312.25L602.15,312.25L602.20,312.17L602.25,311.84L602.30,310.99L602.35,309.37L602.40,306.95L602.45,304.11L602.50,301.55L602.55,299.84L602.60,299.06L602.65,298.83L602.70,298.79L605.70,299.11L608.70,299.44L611.70,299.76L613.20,299.92L613.55,299.96L613.70,299.96L613.85,299.93L614.00,299.81L614.15,299.60L614.30,299.39L614.35,299.36L614.40,299.35L614.45,299.37L614.60,299.56L614.75,299.82L614.90,300.01L615.05,300.10L616.55,300.28L619.55,300.59L622.55,300.90L625.55,301.20L625.70,301.20L625.85,301.14L626.20,300.81L626.35,300.80L626.50,300.94L626.65,301.13L626.80,301.27L626.95,301.33L629.95,301.65L632.95,301.95L635.95,302.25L638.95,302.54L640.45,302.68L641.20,302.76L641.35,302.78L641.40,302.81L641.45,302.90L641.50,303.09L641.55,303.38L641.60,303.71L641.65,303.98L641.70,304.16L641.75,304.26L641.80,304.31L641.95,304.33L642.00,304.32L642.05,304.29L642.10,304.20L642.15,304.03L642.20,303.76L642.25,303.45L642.30,303.17L642.35,302.99L642.40,302.90L642.55,302.89L645.55,303.17L648.55,303.45L651.55,303.73L654.55,304.01L657.55,304.28L659.05,304.42L659.40,304.45L659.55,304.47L659.60,304.47L659.65,304.48L659.70,304.57L659.75,304.81L659.80,305.16L659.85,305.43L659.90,305.56L659.95,305.60L660.00,305.61L660.05,305.61L660.10,305.58L660.15,305.46L660.20,305.19L660.25,304.85L660.30,304.62L660.35,304.55L661.85,304.67L662.60,304.74L662.65,304.75L662.70,304.84L662.75,305.11L662.80,305.49L662.85,305.79L662.90,305.93L662.95,305.97L663.00,305.98L663.05,305.98L663.10,305.95L663.15,305.81L663.20,305.52L663.25,305.15L663.30,304.90L663.35,304.82L666.35,305.07L667.85,305.20L668.60,305.27L668.75,305.26L668.90,305.19L668.95,305.13L669.10,304.83L669.15,304.71L669.20,304.62L669.25,304.55L669.30,304.53L669.35,304.56L669.40,304.63L669.55,304.99L669.60,305.10L669.65,305.19L669.80,305.34L670.15,305.40L673.15,305.66L673.90,305.73L674.05,305.74L674.10,305.75L674.15,305.75L674.20,305.79L674.25,306.01L674.30,306.69L674.35,308.18L674.40,310.41L674.45,312.88L674.50,314.98L674.55,316.39L674.60,317.13L674.65,317.42L674.70,317.49L674.75,317.50L674.80,317.50L674.85,317.43L674.90,317.15L674.95,316.41L675.00,315.01L675.05,312.92L675.10,310.46L675.15,308.24L675.20,306.77L675.25,306.09L675.30,305.89L675.35,305.86L678.35,306.11L681.35,306.36L684.35,306.61L687.35,306.86L690.35,307.10L693.35,307.34L694.85,307.46L695.00,307.47L695.05,307.48L695.10,307.53L695.15,307.65L695.20,307.92L695.25,308.33L695.30,308.77L695.35,309.15L695.40,309.41L695.45,309.55L695.50,309.60L695.65,309.62L695.70,309.62L695.75,309.57L695.80,309.44L695.85,309.19L695.90,308.82L695.95,308.38L696.00,307.98L696.05,307.72L696.10,307.61L696.15,307.57L699.15,307.80L702.15,308.04L705.15,308.27L708.15,308.50L711.15,308.73L714.15,308.95L714.30,308.96L714.45,308.99L714.50,309.09L714.55,309.41L714.60,310.10L714.65,311.12L714.70,312.26L714.75,313.23L714.80,313.88L714.85,314.23L714.90,314.36L714.95,314.39L715.00,314.40L715.05,314.40L715.10,314.37L715.15,314.24L715.20,313.91L715.25,313.26L715.30,312.30L715.35,311.17L715.40,310.15L715.45,309.48L715.50,309.17L715.55,309.08L718.55,309.28L721.55,309.50L724.55,309.72L727.55,309.93L730.55,310.14L733.55,310.35L736.55,310.56L739.55,310.77L742.55,310.98L745.55,311.18L748.55,311.38L751.55,311.58L753.05,311.69L753.10,311.73L753.15,311.80L753.20,311.94L753.25,312.13L753.40,312.82L753.45,312.98L753.50,313.10L753.55,313.16L753.70,313.22L753.85,313.23L753.90,313.22L753.95,313.19L754.00,313.13L754.05,313.02L754.10,312.86L754.25,312.20L754.30,312.01L754.35,311.88L754.40,311.81L754.55,311.78L757.55,311.97L760.55,312.16L763.55,312.35L766.55,312.54L769.55,312.73L772.55,312.92L772.90,312.94L773.05,312.95L773.10,312.95L773.15,312.97L773.20,313.12L773.25,313.55L773.30,314.18L773.35,314.67L773.40,314.91L773.45,314.97L773.50,314.97L773.55,314.97L773.60,314.92L773.65,314.69L773.70,314.20L773.75,313.58L773.80,313.15L773.85,313.01L776.85,313.18L776.90,313.20L776.95,313.34L777.00,313.78L777.05,314.41L777.10,314.90L777.15,315.14L777.20,315.20L777.25,315.20L777.30,315.20L777.35,315.15L777.40,314.92L777.45,314.43L777.50,313.81L777.55,313.38L777.60,313.24L780.60,313.41L783.60,313.58L786.60,313.76L788.10,313.85L788.15,313.87L788.20,313.98L788.25,314.33L788.30,314.83L788.35,315.23L788.40,315.42L788.45,315.47L788.50,315.47L788.55,315.47L788.60,315.43L788.65,315.25L788.70,314.85L788.75,314.36L788.80,314.02L788.85,313.91L790.35,313.98L790.70,314.00L790.85,314.01L790.90,314.01L790.95,314.03L791.00,314.10L791.05,314.32L791.10,314.63L791.15,314.88L791.20,315.00L791.35,315.04L791.40,315.01L791.45,314.90L791.50,314.65L791.55,314.35L791.60,314.13L791.65,314.07L794.65,314.23L796.15,314.32L796.90,314.36L797.05,314.37L797.10,314.37L797.15,314.39L797.20,314.51L797.25,314.88L797.30,315.41L797.35,315.84L797.40,316.03L797.45,316.09L797.50,316.09L797.55,316.09L797.60,316.04L797.65,315.85L797.70,315.43L797.75,314.91L797.80,314.54L797.85,314.43L800.85,314.58L803.85,314.75L806.85,314.92L809.85,315.08L812.85,315.24L814.35,315.32L815.10,315.36L815.25,315.39L815.30,315.49L815.35,315.82L815.40,316.29L815.45,316.66L815.50,316.84L815.55,316.89L815.60,316.89L815.65,316.89L815.70,316.85L815.75,316.68L815.80,316.31L815.85,315.85L815.90,315.53L815.95,315.42L818.95,315.57L821.95,315.73L824.95,315.88L827.95,316.04L830.95,316.19L833.95,316.35L836.95,316.50L839.95,316.65L842.95,316.80L845.95,316.94L848.95,317.09L849.50,317.11L849.50,317.11L848.95,317.09L845.95,316.94L842.95,316.80L839.95,316.65L836.95,316.50L833.95,316.35L830.95,316.19L827.95,316.04L824.95,315.88L821.95,315.73L818.95,315.57L815.95,315.41L815.90,315.41L815.85,315.40L815.80,315.40L815.75,315.40L815.70,315.40L815.65,315.39L815.60,315.39L815.55,315.39L815.50,315.39L815.45,315.38L815.40,315.38L815.35,315.38L815.30,315.37L815.25,315.37L815.10,315.36L814.35,315.32L812.85,315.24L809.85,315.08L806.85,314.92L803.85,314.75L800.85,314.58L797.85,314.41L797.80,314.41L797.75,314.41L797.70,314.40L797.65,314.40L797.60,314.40L797.55,314.39L797.50,314.39L797.45,314.39L797.40,314.39L797.35,314.38L797.30,314.38L797.25,314.38L797.20,314.37L797.15,314.37L797.10,314.37L797.05,314.37L796.90,314.36L796.15,314.32L794.65,314.23L791.65,314.06L791.60,314.05L791.55,314.05L791.50,314.05L791.45,314.04L791.40,314.04L791.35,314.04L791.20,314.03L791.15,314.03L791.10,314.02L791.05,314.02L791.00,314.02L790.95,314.02L790.90,314.01L790.85,314.01L790.70,314.00L790.35,313.98L788.85,313.89L788.80,313.89L788.75,313.89L788.70,313.89L788.65,313.88L788.60,313.88L788.55,313.88L788.50,313.87L788.45,313.87L788.40,313.87L788.35,313.86L788.30,313.86L788.25,313.86L788.20,313.86L788.15,313.85L788.10,313.85L786.60,313.76L783.60,313.58L780.60,313.41L777.60,313.22L777.55,313.22L777.50,313.22L777.45,313.22L777.40,313.21L777.35,313.21L777.30,313.21L777.25,313.20L777.20,313.20L777.15,313.20L777.10,313.19L777.05,313.19L777.00,313.19L776.95,313.19L776.90,313.18L776.85,313.18L773.85,313.00L773.80,312.99L773.75,312.99L773.70,312.99L773.65,312.98L773.60,312.98L773.55,312.98L773.50,312.97L773.45,312.97L773.40,312.97L773.35,312.97L773.30,312.96L773.25,312.96L773.20,312.96L773.15,312.95L773.10,312.95L773.05,312.95L772.90,312.94L772.55,312.92L769.55,312.73L766.55,312.54L763.55,312.35L760.55,312.16L757.55,311.97L754.55,311.77L754.40,311.77L754.35,311.76L754.30,311.76L754.25,311.76L754.10,311.75L754.05,311.74L754.00,311.74L753.95,311.74L753.90,311.73L753.85,311.73L753.70,311.72L753.55,311.71L753.50,311.71L753.45,311.70L753.40,311.70L753.25,311.69L753.20,311.69L753.15,311.68L753.10,311.68L753.05,311.68L751.55,311.58L748.55,311.38L745.55,311.18L742.55,310.98L739.55,310.77L736.55,310.56L733.55,310.35L730.55,310.14L727.55,309.93L724.55,309.72L721.55,309.50L718.55,309.28L715.55,309.06L715.50,309.05L715.45,309.05L715.40,309.04L715.35,309.04L715.30,309.04L715.25,309.03L715.20,309.03L715.15,309.03L715.10,309.02L715.05,309.02L715.00,309.02L714.95,309.01L714.90,309.01L714.85,309.00L714.80,309.00L714.75,309.00L714.70,308.99L714.65,308.99L714.60,308.99L714.55,308.98L714.50,308.98L714.45,308.97L714.30,308.96L714.15,308.95L711.15,308.73L708.15,308.50L705.15,308.27L702.15,308.04L699.15,307.80L696.15,307.56L696.10,307.56L696.05,307.56L696.00,307.55L695.95,307.55L695.90,307.54L695.85,307.54L695.80,307.54L695.75,307.53L695.70,307.53L695.65,307.53L695.50,307.51L695.45,307.51L695.40,307.51L695.35,307.50L695.30,307.50L695.25,307.49L695.20,307.49L695.15,307.49L695.10,307.48L695.05,307.48L695.00,307.47L694.85,307.46L693.35,307.34L690.35,307.10L687.35,306.86L684.35,306.61L681.35,306.36L678.35,306.11L675.35,305.85L675.30,305.85L675.25,305.84L675.20,305.84L675.15,305.83L675.10,305.83L675.05,305.83L675.00,305.82L674.95,305.82L674.90,305.81L674.85,305.81L674.80,305.81L674.75,305.80L674.70,305.80L674.65,305.79L674.60,305.79L674.55,305.78L674.50,305.78L674.45,305.78L674.40,305.77L674.35,305.77L674.30,305.76L674.25,305.76L674.20,305.75L674.15,305.75L674.10,305.75L674.05,305.74L673.90,305.73L673.15,305.66L670.15,305.40L669.80,305.37L669.65,305.36L669.60,305.36L669.55,305.35L669.40,305.34L669.35,305.33L669.30,305.33L669.25,305.33L669.20,305.32L669.15,305.32L669.10,305.31L668.95,305.30L668.90,305.30L668.75,305.28L668.60,305.27L667.85,305.20L666.35,305.07L663.35,304.81L663.30,304.80L663.25,304.80L663.20,304.79L663.15,304.79L663.10,304.78L663.05,304.78L663.00,304.78L662.95,304.77L662.90,304.77L662.85,304.76L662.80,304.76L662.75,304.75L662.70,304.75L662.65,304.74L662.60,304.74L661.85,304.67L660.35,304.54L660.30,304.53L660.25,304.53L660.20,304.52L660.15,304.52L660.10,304.52L660.05,304.51L660.00,304.51L659.95,304.50L659.90,304.50L659.85,304.49L659.80,304.49L659.75,304.48L659.70,304.48L659.65,304.47L659.60,304.47L659.55,304.47L659.40,304.45L659.05,304.42L657.55,304.28L654.55,304.01L651.55,303.73L648.55,303.45L645.55,303.17L642.55,302.89L642.40,302.87L642.35,302.87L642.30,302.86L642.25,302.86L642.20,302.85L642.15,302.85L642.10,302.84L642.05,302.84L642.00,302.83L641.95,302.83L641.80,302.81L641.75,302.81L641.70,302.80L641.65,302.80L641.60,302.79L641.55,302.79L641.50,302.79L641.45,302.78L641.40,302.78L641.35,302.77L641.20,302.76L640.45,302.68L638.95,302.54L635.95,302.25L632.95,301.95L629.95,301.65L626.95,301.35L626.80,301.33L626.65,301.32L626.50,301.30L626.35,301.29L626.20,301.27L625.85,301.24L625.70,301.22L625.55,301.21L622.55,300.90L619.55,300.59L616.55,300.28L615.05,300.12L614.90,300.10L614.75,300.09L614.60,300.07L614.45,300.06L614.40,300.05L614.35,300.05L614.30,300.04L614.15,300.02L614.00,300.01L613.85,299.99L613.70,299.98L613.55,299.96L613.20,299.92L611.70,299.76L608.70,299.44L605.70,299.11L602.70,298.78L602.65,298.78L602.60,298.77L602.55,298.77L602.50,298.76L602.45,298.76L602.40,298.75L602.35,298.75L602.30,298.74L602.25,298.73L602.20,298.73L602.15,298.72L602.10,298.72L602.05,298.71L602.00,298.71L601.95,298.70L601.90,298.70L601.85,298.69L601.80,298.68L601.75,298.68L601.70,298.67L601.65,298.67L601.60,298.66L601.55,298.66L601.50,298.65L601.35,298.63L601.00,298.60L600.25,298.51L598.75,298.34L595.75,298.01L592.75,297.66L589.75,297.32L586.75,296.97L583.75,296.62L580.75,296.26L580.70,296.25L580.65,296.25L580.60,296.24L580.55,296.23L580.50,296.23L580.45,296.22L580.40,296.22L580.35,296.21L580.30,296.20L580.25,296.20L580.20,296.19L580.15,296.19L580.10,296.18L580.05,296.17L580.00,296.17L579.95,296.16L579.90,296.16L579.85,296.15L579.80,296.14L579.75,296.14L579.70,296.13L579.55,296.11L579.50,296.11L579.45,296.10L579.40,296.10L579.35,296.09L579.30,296.08L578.55,295.99L577.05,295.81L574.05,295.45L574.00,295.44L573.95,295.43L573.90,295.43L573.85,295.42L573.80,295.41L573.75,295.41L573.70,295.40L573.65,295.40L573.60,295.39L573.55,295.38L573.50,295.38L573.45,295.37L573.40,295.37L573.35,295.36L573.20,295.34L572.85,295.30L571.35,295.11L568.35,294.74L565.35,294.36L562.35,293.98L562.30,293.97L562.25,293.96L562.20,293.96L562.15,293.95L562.10,293.94L562.05,293.94L561.90,293.92L561.85,293.91L561.80,293.91L561.75,293.90L561.70,293.89L561.65,293.89L561.60,293.88L561.55,293.87L561.40,293.85L561.05,293.81L558.05,293.42L555.05,293.03L552.05,292.63L551.90,292.61L551.85,292.60L551.80,292.60L551.75,292.59L551.60,292.57L551.55,292.56L551.50,292.56L551.45,292.55L551.40,292.54L551.35,292.54L551.20,292.52L551.05,292.50L551.00,292.49L550.95,292.48L550.90,292.47L550.75,292.45L550.70,292.45L550.65,292.44L550.60,292.43L550.55,292.43L549.05,292.23L546.05,291.82L543.05,291.41L540.05,290.99L537.05,290.57L534.05,290.14L534.00,290.14L533.95,290.13L533.90,290.12L533.85,290.11L533.80,290.11L533.75,290.10L533.60,290.08L533.55,290.07L533.50,290.06L533.45,290.06L533.40,290.05L533.35,290.04L531.85,289.83L528.85,289.39L525.85,288.95L522.85,288.51L522.80,288.50L522.75,288.49L522.70,288.49L522.65,288.48L522.60,288.47L522.55,288.46L522.50,288.46L522.45,288.45L522.40,288.44L522.35,288.43L522.30,288.43L522.25,288.42L522.20,288.41L522.15,288.40L522.00,288.38L521.85,288.36L521.10,288.25L519.60,288.02L516.60,287.56L513.60,287.10L510.60,286.64L507.60,286.16L504.60,285.69L501.60,285.20L501.55,285.19L501.50,285.19L501.45,285.18L501.40,285.17L501.35,285.16L501.30,285.15L501.25,285.15L501.20,285.14L501.15,285.13L501.10,285.12L501.05,285.11L501.00,285.11L500.95,285.10L500.90,285.09L500.85,285.08L500.50,285.02L497.50,284.53L494.50,284.04L491.50,283.53L488.50,283.02L485.50,282.51L482.50,281.99L479.50,281.46L476.50,280.93L473.50,280.38L470.50,279.84L467.50,279.28L464.50,278.72L461.50,278.16L458.50,277.58L455.50,277.00L452.50,276.41L452.45,276.40L452.40,276.39L452.35,276.38L452.30,276.37L452.25,276.36L452.20,276.35L452.15,276.34L452.10,276.33L452.05,276.32L452.00,276.31L451.95,276.30L451.90,276.29L451.85,276.28L451.80,276.27L451.75,276.26L451.70,276.25L451.65,276.24L451.60,276.23L451.55,276.22L451.50,276.21L451.45,276.20L451.40,276.19L451.35,276.18L451.30,276.18L451.25,276.17L451.20,276.16L450.85,276.09L449.35,275.79L446.35,275.18L443.35,274.57L440.35,273.95L440.30,273.94L440.25,273.93L440.20,273.92L440.15,273.91L440.10,273.90L440.05,273.89L440.00,273.88L439.95,273.87L439.90,273.86L439.85,273.85L439.70,273.82L439.65,273.81L439.60,273.80L439.55,273.79L439.50,273.78L439.45,273.77L439.40,273.76L439.35,273.75L439.30,273.74L439.25,273.73L439.20,273.71L439.05,273.68L438.70,273.61L438.35,273.54L438.30,273.53L438.25,273.52L438.20,273.51L438.15,273.50L438.10,273.49L438.05,273.47L438.00,273.46L437.95,273.45L437.90,273.44L437.85,273.43L437.80,273.42L437.75,273.41L437.70,273.40L437.65,273.39L437.60,273.38L437.55,273.37L437.50,273.36L437.45,273.35L437.40,273.34L437.35,273.33L437.30,273.32L437.25,273.31L436.90,273.23L436.15,273.08L434.65,272.76L431.65,272.12L428.65,271.47L425.65,270.81L422.65,270.14L419.65,269.47L418.90,269.30L418.75,269.27L418.70,269.25L418.65,269.24L418.60,269.23L418.55,269.22L418.50,269.21L418.45,269.20L418.40,269.19L418.35,269.18L418.30,269.16L418.25,269.15L418.20,269.14L418.15,269.13L418.10,269.12L418.05,269.11L418.00,269.10L417.95,269.08L417.90,269.07L417.85,269.06L417.80,269.05L417.75,269.04L417.70,269.03L417.65,269.02L417.60,269.00L417.55,268.99L417.50,268.98L417.45,268.97L417.40,268.96L417.25,268.92L417.10,268.89L415.60,268.55L415.45,268.51L415.40,268.50L415.35,268.49L415.30,268.48L415.15,268.44L415.10,268.43L415.05,268.42L415.00,268.41L414.95,268.40L414.90,268.39L414.75,268.35L414.60,268.32L414.55,268.30L414.50,268.29L414.45,268.28L414.30,268.25L414.25,268.24L414.20,268.22L414.15,268.21L414.10,268.20L413.95,268.17L413.60,268.08L412.85,267.91L411.35,267.56L408.35,266.85L405.35,266.14L402.35,265.41L399.35,264.68L399.30,264.67L399.25,264.65L399.20,264.64L399.15,264.63L399.10,264.62L399.05,264.60L399.00,264.59L398.95,264.58L398.90,264.57L398.85,264.55L398.80,264.54L398.75,264.53L398.70,264.52L398.65,264.51L398.60,264.49L398.55,264.48L398.50,264.47L398.45,264.46L398.40,264.44L398.35,264.43L398.30,264.42L398.25,264.41L398.20,264.39L398.15,264.38L397.80,264.29L397.45,264.21L396.70,264.02L393.70,263.27L390.70,262.51L387.70,261.74L384.70,260.95L383.20,260.56L383.05,260.52L383.00,260.51L382.95,260.49L382.90,260.48L382.75,260.44L382.60,260.40L382.45,260.36L382.30,260.32L382.15,260.28L381.80,260.19L381.65,260.15L381.50,260.11L381.35,260.07L381.20,260.03L381.05,259.99L381.00,259.97L380.95,259.96L380.90,259.95L380.75,259.91L380.60,259.87L377.60,259.06L374.60,258.24L371.60,257.42L368.60,256.58L365.60,255.73L365.55,255.71L365.50,255.70L365.45,255.69L365.40,255.67L365.35,255.66L365.30,255.64L365.25,255.63L365.20,255.61L365.15,255.60L365.10,255.59L365.05,255.57L365.00,255.56L364.95,255.54L364.90,255.53L364.85,255.51L364.80,255.50L364.75,255.49L364.70,255.47L364.65,255.46L364.60,255.44L364.55,255.43L364.50,255.41L364.45,255.40L364.40,255.39L364.35,255.37L364.00,255.27L361.00,254.40L358.00,253.53L355.00,252.63L352.00,251.73L349.00,250.82L348.65,250.71L348.60,250.70L348.55,250.68L348.50,250.66L348.35,250.62L348.30,250.60L348.25,250.59L348.20,250.57L348.05,250.53L347.90,250.48L347.75,250.43L347.70,250.42L347.65,250.40L347.60,250.39L347.45,250.34L347.40,250.33L347.35,250.31L347.20,250.26L347.05,250.22L346.70,250.11L345.95,249.88L344.45,249.41L341.45,248.46L338.45,247.50L338.40,247.49L338.35,247.47L338.30,247.46L338.25,247.44L338.20,247.42L338.15,247.41L338.10,247.39L338.05,247.38L338.00,247.36L337.95,247.34L337.80,247.30L337.75,247.28L337.70,247.26L337.65,247.25L337.60,247.23L337.55,247.21L337.50,247.20L337.45,247.18L337.40,247.17L337.35,247.15L337.20,247.10L337.05,247.05L335.55,246.57L332.55,245.58L329.55,244.58L329.40,244.53L329.35,244.52L329.30,244.50L329.25,244.48L329.10,244.43L329.05,244.42L329.00,244.40L328.95,244.38L328.90,244.37L328.85,244.35L328.70,244.30L328.55,244.25L328.50,244.23L328.45,244.21L328.40,244.20L328.25,244.15L328.20,244.13L328.15,244.11L328.10,244.10L328.05,244.08L327.30,243.83L324.30,242.81L321.30,241.77L318.30,240.72L315.30,239.66L312.30,238.58L309.30,237.48L306.30,236.37L303.30,235.25L300.30,234.11L297.30,232.95L297.15,232.89L297.10,232.88L297.05,232.86L297.00,232.84L296.95,232.82L296.90,232.80L296.85,232.78L296.80,232.76L296.75,232.74L296.70,232.72L296.65,232.70L296.60,232.68L296.55,232.66L296.50,232.64L296.45,232.62L296.40,232.60L296.35,232.58L296.30,232.56L296.25,232.54L296.20,232.53L296.15,232.51L296.10,232.49L296.05,232.47L296.00,232.45L295.85,232.39L295.50,232.25L294.75,231.96L293.25,231.37L293.10,231.31L293.05,231.29L293.00,231.27L292.85,231.21L292.80,231.19L292.75,231.17L292.70,231.15L292.65,231.13L292.50,231.07L292.45,231.05L292.40,231.03L292.35,231.01L292.20,230.95L292.15,230.93L292.10,230.91L291.95,230.85L291.60,230.71L291.55,230.69L291.50,230.67L291.45,230.65L291.40,230.63L291.35,230.61L291.30,230.59L291.25,230.57L291.20,230.55L291.15,230.53L291.10,230.51L291.05,230.49L291.00,230.47L290.95,230.45L290.90,230.43L290.85,230.41L290.80,230.39L290.75,230.37L290.70,230.35L290.65,230.33L290.60,230.31L290.55,230.29L290.50,230.27L290.45,230.25L290.40,230.23L290.35,230.21L290.30,230.19L288.80,229.59L288.75,229.57L288.70,229.55L288.65,229.53L288.60,229.51L288.55,229.49L288.50,229.47L288.45,229.45L288.40,229.43L288.35,229.41L288.30,229.39L288.25,229.37L288.10,229.31L287.95,229.24L287.90,229.22L287.85,229.20L287.80,229.18L287.75,229.16L287.70,229.14L287.65,229.12L287.60,229.10L287.55,229.08L287.50,229.06L287.45,229.04L287.40,229.02L287.35,229.00L287.20,228.94L285.70,228.33L282.70,227.09L279.70,225.84L276.70,224.56L273.70,223.28L273.65,223.26L273.60,223.23L273.55,223.21L273.50,223.19L273.45,223.17L273.40,223.15L273.35,223.13L273.30,223.10L273.25,223.08L273.20,223.06L273.15,223.04L273.10,223.02L273.05,223.00L273.00,222.97L272.95,222.95L272.90,222.93L272.85,222.91L272.80,222.89L272.75,222.87L272.70,222.84L272.65,222.82L272.60,222.80L272.55,222.78L272.50,222.76L272.35,222.69L270.85,222.04L267.85,220.74L267.80,220.72L267.75,220.70L267.70,220.67L267.65,220.65L267.60,220.63L267.55,220.61L267.50,220.59L267.45,220.57L267.40,220.54L267.35,220.52L267.30,220.50L267.25,220.48L267.20,220.46L267.15,220.44L267.10,220.42L267.05,220.40L267.00,220.37L266.95,220.35L266.90,220.33L266.85,220.31L266.80,220.29L266.75,220.27L266.70,220.25L266.65,220.23L266.30,220.08L265.95,219.94L264.45,219.39L264.30,219.35L264.25,219.33L264.20,219.32L264.15,219.31L264.10,219.29L264.05,219.28L264.00,219.27L263.95,219.26L263.90,219.25L263.85,219.24L263.80,219.24L263.75,219.23L263.70,219.22L263.65,219.22L263.60,219.21L263.55,219.21L263.50,219.21L263.45,219.21L263.40,219.21L263.35,219.21L263.30,219.21L263.25,219.22L263.20,219.23L263.15,219.23L263.00,219.27L262.85,219.33L262.50,219.53L262.45,219.56L262.40,219.59L262.35,219.62L262.30,219.65L262.25,219.68L262.20,219.70L262.15,219.72L262.10,219.73L262.05,219.73L262.00,219.73L261.95,219.72L261.90,219.70L261.85,219.68L261.80,219.64L261.75,219.60L261.70,219.55L261.65,219.49L261.60,219.43L261.55,219.36L261.50,219.29L261.45,219.21L261.40,219.14L261.35,219.06L261.30,218.98L261.25,218.90L261.20,218.83L261.15,218.75L261.10,218.67L261.05,218.60L261.00,218.53L260.95,218.46L260.90,218.40L260.85,218.33L260.70,218.15L260.65,218.09L260.60,218.04L260.55,217.99L260.50,217.93L260.45,217.89L260.40,217.84L260.35,217.79L260.30,217.75L260.25,217.70L260.20,217.66L260.15,217.62L260.10,217.58L259.75,217.31L259.00,216.84L258.25,216.43L255.25,214.94L252.25,213.49L249.25,212.03L246.25,210.55L246.10,210.47L246.05,210.45L246.00,210.42L245.95,210.40L245.90,210.37L245.85,210.35L245.80,210.32L245.75,210.30L245.70,210.27L245.65,210.25L245.50,210.18L245.45,210.15L245.40,210.13L245.35,210.10L245.30,210.08L245.25,210.05L245.20,210.03L245.15,210.00L245.10,209.98L245.05,209.95L245.00,209.93L244.85,209.85L244.50,209.68L243.00,208.92L240.00,207.40L239.65,207.22L239.60,207.20L239.55,207.17L239.40,207.10L239.35,207.07L239.30,207.04L239.25,207.02L239.20,206.99L239.05,206.92L239.00,206.89L238.95,206.87L238.80,206.79L238.75,206.76L238.70,206.74L238.65,206.71L238.50,206.63L238.15,206.45L238.00,206.38L237.95,206.35L237.90,206.33L237.75,206.25L237.60,206.17L237.25,205.99L237.20,205.96L237.15,205.94L237.10,205.91L237.05,205.89L237.00,205.86L236.95,205.83L236.90,205.81L236.85,205.78L236.70,205.70L236.55,205.63L236.50,205.60L236.45,205.57L236.30,205.50L236.15,205.42L235.80,205.24L235.75,205.21L235.70,205.18L235.65,205.16L235.60,205.13L235.55,205.11L235.50,205.08L235.45,205.05L235.40,205.03L235.35,205.00L235.20,204.92L235.05,204.84L234.70,204.66L234.65,204.64L234.60,204.61L234.55,204.58L234.50,204.56L234.45,204.53L234.40,204.50L234.35,204.48L234.30,204.45L234.25,204.43L234.20,204.40L234.15,204.37L234.10,204.35L234.05,204.32L234.00,204.29L233.95,204.27L233.90,204.24L233.85,204.22L233.80,204.19L233.75,204.16L233.70,204.14L233.65,204.11L233.60,204.08L233.55,204.06L233.50,204.03L233.45,204.00L233.40,203.98L233.35,203.95L233.30,203.93L233.25,203.90L233.20,203.87L233.15,203.85L233.00,203.77L232.65,203.58L232.60,203.56L232.45,203.48L232.40,203.45L232.35,203.42L232.30,203.40L232.25,203.37L232.20,203.34L232.05,203.26L232.00,203.24L231.95,203.21L231.90,203.18L231.85,203.16L231.80,203.13L231.75,203.10L231.70,203.08L231.65,203.05L231.60,203.02L231.55,203.00L231.50,202.97L231.45,202.94L231.40,202.92L231.35,202.89L231.30,202.86L231.25,202.84L231.20,202.81L231.15,202.78L231.10,202.76L231.05,202.73L231.00,202.70L230.95,202.68L230.90,202.65L230.85,202.62L230.80,202.60L230.75,202.57L230.70,202.54L230.65,202.52L230.50,202.44L230.45,202.41L230.40,202.38L230.35,202.36L230.30,202.33L230.25,202.30L230.20,202.28L230.15,202.25L230.10,202.22L230.05,202.20L230.00,202.17L229.95,202.14L229.90,202.12L229.85,202.09L229.80,202.06L229.75,202.04L229.70,202.01L229.65,201.98L229.60,201.96L229.45,201.87L229.40,201.85L229.35,201.82L229.30,201.79L229.25,201.77L229.20,201.74L229.15,201.71L229.10,201.69L229.05,201.66L229.00,201.63L228.95,201.61L228.90,201.58L228.85,201.55L228.80,201.52L228.75,201.50L228.70,201.47L228.65,201.44L228.60,201.42L228.55,201.39L228.50,201.36L228.45,201.34L228.40,201.31L228.35,201.28L228.30,201.25L228.25,201.23L228.20,201.20L228.15,201.17L228.10,201.15L228.05,201.12L228.00,201.09L227.95,201.07L227.90,201.04L227.85,201.01L227.80,200.98L227.75,200.96L227.70,200.93L227.65,200.90L227.60,200.88L227.55,200.85L227.50,200.82L227.45,200.79L227.40,200.77L227.35,200.74L227.30,200.71L227.25,200.69L227.20,200.66L227.15,200.63L227.10,200.60L227.05,200.58L226.90,200.50L226.85,200.47L226.80,200.44L226.75,200.41L226.70,200.39L226.65,200.36L226.60,200.33L226.55,200.30L226.50,200.28L226.45,200.25L226.40,200.22L226.35,200.20L226.30,200.17L226.25,200.14L226.20,200.11L226.15,200.09L226.00,200.00L225.95,199.98L225.90,199.95L225.85,199.92L225.80,199.89L225.75,199.87L225.70,199.84L225.65,199.81L225.60,199.78L225.55,199.76L225.50,199.73L225.45,199.70L225.40,199.68L225.35,199.65L225.30,199.62L225.15,199.54L225.00,199.46L224.95,199.43L224.90,199.40L224.85,199.37L224.80,199.35L224.75,199.32L224.70,199.29L224.65,199.26L224.60,199.24L224.55,199.21L224.50,199.18L224.45,199.15L224.40,199.13L224.35,199.10L224.30,199.07L224.25,199.04L224.20,199.02L224.15,198.99L224.10,198.96L223.95,198.88L223.90,198.85L223.85,198.82L223.80,198.79L223.75,198.77L223.70,198.74L223.65,198.71L223.60,198.68L223.55,198.66L223.50,198.63L223.35,198.55L223.30,198.52L223.25,198.49L223.20,198.46L223.15,198.43L223.10,198.41L223.05,198.38L223.00,198.35L222.95,198.32L222.90,198.30L222.85,198.27L222.50,198.07L222.45,198.05L222.40,198.02L222.35,197.99L222.30,197.96L222.25,197.93L222.20,197.91L222.15,197.88L222.10,197.85L222.05,197.82L222.00,197.79L221.95,197.77L221.90,197.74L221.85,197.71L221.80,197.68L221.75,197.65L221.70,197.63L221.65,197.60L221.60,197.57L221.55,197.54L221.50,197.52L221.45,197.49L221.40,197.46L221.35,197.43L221.30,197.40L221.25,197.38L221.20,197.35L221.05,197.26L221.00,197.24L220.95,197.21L220.90,197.18L220.85,197.15L220.80,197.12L220.75,197.10L220.70,197.07L220.65,197.04L220.60,197.01L220.55,196.98L220.50,196.95L220.45,196.93L220.40,196.90L220.35,196.87L220.20,196.79L220.15,196.76L220.10,196.73L220.05,196.70L220.00,196.67L219.95,196.65L219.90,196.62L219.85,196.59L219.80,196.56L219.75,196.53L219.70,196.50L219.65,196.48L219.60,196.45L219.55,196.42L219.50,196.39L219.45,196.36L219.40,196.33L219.35,196.31L219.30,196.28L219.25,196.25L219.20,196.22L219.15,196.19L219.10,196.16L219.05,196.14L219.00,196.11L218.95,196.08L218.90,196.05L218.85,196.02L218.80,196.00L218.75,195.97L218.70,195.94L218.65,195.91L218.60,195.88L218.55,195.85L218.50,195.82L218.45,195.80L218.40,195.77L218.35,195.74L218.30,195.71L218.25,195.68L218.20,195.65L218.15,195.63L218.10,195.60L218.05,195.57L218.00,195.54L217.85,195.46L217.70,195.37L217.35,195.17L217.00,194.97L216.85,194.88L216.70,194.80L216.55,194.71L216.20,194.51L216.05,194.43L216.00,194.40L215.95,194.37L215.90,194.34L215.85,194.31L215.80,194.28L215.75,194.25L215.70,194.22L215.65,194.20L215.60,194.17L215.55,194.14L215.50,194.11L215.45,194.08L215.40,194.05L215.35,194.02L215.30,193.99L215.25,193.96L215.20,193.94L215.15,193.91L215.10,193.88L214.95,193.79L214.90,193.76L214.85,193.73L214.80,193.71L214.75,193.68L214.70,193.65L214.65,193.62L214.60,193.59L214.55,193.56L214.50,193.53L214.45,193.50L214.40,193.47L214.35,193.44L214.30,193.42L214.25,193.39L214.20,193.36L214.15,193.33L214.10,193.30L214.05,193.27L214.00,193.24L213.95,193.21L213.90,193.18L213.85,193.15L213.80,193.13L213.75,193.10L213.60,193.01L213.55,192.98L213.50,192.95L213.45,192.92L213.40,192.89L213.35,192.86L213.30,192.83L213.25,192.81L213.20,192.78L213.15,192.75L213.10,192.72L212.95,192.63L212.90,192.60L212.85,192.57L212.80,192.54L212.75,192.51L212.70,192.48L212.65,192.46L212.60,192.43L212.55,192.40L212.40,192.31L212.35,192.28L212.30,192.25L212.15,192.16L212.10,192.13L212.05,192.10L212.00,192.07L211.95,192.05L211.90,192.02L211.85,191.99L211.80,191.96L211.75,191.93L211.70,191.90L211.65,191.87L211.60,191.84L211.55,191.81L211.50,191.78L211.45,191.75L211.40,191.72L211.35,191.69L211.30,191.66L211.25,191.63L211.20,191.60L211.15,191.58L211.10,191.55L211.05,191.52L211.00,191.49L210.95,191.46L210.80,191.37L210.75,191.34L210.70,191.31L210.65,191.28L210.60,191.25L210.55,191.22L210.50,191.19L210.45,191.16L210.40,191.13L210.35,191.10L210.30,191.07L210.25,191.04L210.20,191.01L210.15,190.98L210.10,190.96L210.05,190.93L210.00,190.90L209.95,190.87L209.90,190.84L209.85,190.81L209.80,190.78L209.75,190.75L209.70,190.72L209.65,190.69L209.60,190.66L209.45,190.57L209.40,190.54L209.35,190.51L209.30,190.48L209.25,190.45L209.20,190.42L209.15,190.39L209.10,190.36L209.05,190.33L209.00,190.30L208.95,190.27L208.90,190.24L208.85,190.21L208.80,190.18L208.75,190.15L208.70,190.12L208.65,190.09L208.60,190.06L208.55,190.03L208.50,190.00L208.45,189.97L208.40,189.94L208.35,189.91L208.30,189.88L208.25,189.86L208.20,189.83L208.15,189.80L208.10,189.77L208.05,189.74L208.00,189.71L207.95,189.68L207.90,189.65L207.85,189.62L207.80,189.59L207.75,189.56L207.70,189.53L207.65,189.50L207.60,189.47L207.55,189.44L207.50,189.41L207.45,189.38L207.40,189.35L207.35,189.32L207.30,189.29L207.25,189.26L207.20,189.23L207.15,189.20L207.10,189.17L207.05,189.14L207.00,189.11L206.95,189.08L206.90,189.05L206.75,188.96L206.70,188.93L206.65,188.90L206.60,188.87L206.55,188.84L206.50,188.80L206.45,188.77L206.40,188.74L206.35,188.71L206.20,188.62L206.15,188.59L206.10,188.56L206.05,188.53L206.00,188.50L205.95,188.47L205.90,188.44L205.85,188.41L205.80,188.38L205.65,188.29L205.60,188.26L205.55,188.23L205.50,188.20L205.45,188.17L205.40,188.14L205.35,188.11L205.30,188.08L205.25,188.05L205.20,188.02L205.15,187.99L205.10,187.96L205.05,187.93L205.00,187.90L204.85,187.81L204.80,187.78L204.75,187.75L204.70,187.72L204.65,187.68L204.60,187.65L204.55,187.62L204.50,187.59L204.45,187.56L204.40,187.53L204.35,187.50L204.30,187.47L204.25,187.44L204.20,187.41L204.15,187.38L204.10,187.35L204.05,187.32L204.00,187.29L203.95,187.26L203.90,187.23L203.85,187.20L203.80,187.17L203.75,187.14L203.70,187.11L203.65,187.08L203.60,187.04L203.55,187.01L203.50,186.98L203.45,186.95L203.40,186.92L203.35,186.89L203.30,186.86L203.25,186.83L203.20,186.80L203.05,186.71L203.00,186.68L202.95,186.65L202.90,186.62L202.85,186.59L202.80,186.55L202.75,186.52L202.70,186.49L202.65,186.46L202.50,186.37L202.45,186.34L202.40,186.31L202.35,186.28L202.30,186.25L202.25,186.22L202.20,186.19L202.15,186.15L202.10,186.12L202.05,186.09L202.00,186.06L201.95,186.03L201.90,186.00L201.85,185.97L201.80,185.94L201.75,185.91L201.70,185.88L201.65,185.85L201.60,185.82L201.55,185.79L201.50,185.75L201.45,185.72L201.40,185.69L201.35,185.66L201.30,185.63L201.25,185.60L201.20,185.57L201.15,185.54L201.10,185.51L201.05,185.48L201.00,185.45L200.95,185.41L200.90,185.38L200.85,185.35L200.80,185.32L200.75,185.29L200.70,185.26L200.65,185.23L200.60,185.20L200.55,185.17L200.50,185.14L200.45,185.10L200.40,185.07L200.35,185.04L200.30,185.01L200.25,184.98L200.20,184.95L200.15,184.92L200.10,184.89L200.05,184.86L200.00,184.82L199.95,184.79L199.90,184.76L199.85,184.73L199.80,184.70L199.75,184.67L199.70,184.64L199.65,184.61L199.60,184.58L199.55,184.54L199.50,184.51L199.45,184.48L199.40,184.45L199.35,184.42L199.30,184.39L199.25,184.36L199.10,184.26L199.05,184.23L199.00,184.20L198.95,184.17L198.90,184.14L198.85,184.11L198.80,184.08L198.75,184.05L198.70,184.01L198.65,183.98L198.60,183.95L198.55,183.92L198.50,183.89L198.45,183.86L198.40,183.83L198.35,183.79L198.20,183.70L198.15,183.67L198.10,183.64L198.05,183.61L198.00,183.58L197.95,183.54L197.90,183.51L197.85,183.48L197.80,183.45L197.75,183.42L197.70,183.39L197.65,183.36L197.60,183.32L197.55,183.29L197.50,183.26L197.45,183.23L197.40,183.20L197.35,183.17L197.30,183.14L197.25,183.10L197.20,183.07L197.15,183.04L197.10,183.01L197.05,182.98L197.00,182.95L196.95,182.92L196.90,182.88L196.85,182.85L196.80,182.82L196.75,182.79L196.70,182.76L196.65,182.73L196.60,182.70L196.55,182.66L196.50,182.63L196.45,182.60L196.40,182.57L196.35,182.54L196.30,182.51L196.25,182.47L196.20,182.44L196.15,182.41L196.10,182.38L196.05,182.35L196.00,182.32L195.95,182.29L195.90,182.25L195.85,182.22L195.80,182.19L195.75,182.16L195.70,182.13L195.65,182.10L195.60,182.06L195.55,182.03L195.50,182.00L195.45,181.97L195.40,181.94L195.35,181.91L195.30,181.87L195.25,181.84L195.20,181.81L195.15,181.78L195.10,181.75L195.05,181.72L195.00,181.69L194.95,181.65L194.90,181.62L194.85,181.59L194.80,181.56L194.75,181.53L194.70,181.50L194.55,181.40L194.40,181.31L194.25,181.21L194.20,181.18L194.15,181.15L194.10,181.12L194.05,181.09L193.90,180.99L193.75,180.90L193.60,180.80L193.55,180.77L193.50,180.74L193.35,180.65L193.20,180.55L193.05,180.46L192.90,180.36L192.85,180.33L192.80,180.30L192.75,180.27L192.70,180.24L192.65,180.21L192.60,180.18L192.55,180.15L192.50,180.12L192.35,180.03L192.00,179.81L191.85,179.72L191.80,179.69L191.75,179.66L191.70,179.64L191.65,179.61L191.60,179.58L191.55,179.55L191.50,179.52L191.45,179.49L191.40,179.46L191.35,179.43L191.30,179.41L191.25,179.38L191.20,179.35L191.15,179.32L191.10,179.30L191.05,179.27L191.00,179.24L190.95,179.22L190.90,179.19L190.85,179.17L190.80,179.14L190.75,179.12L190.70,179.10L190.65,179.07L190.60,179.05L190.45,178.99L190.30,178.93L189.95,178.85L189.90,178.84L189.85,178.84L189.80,178.84L189.75,178.84L189.70,178.85L189.65,178.85L189.60,178.86L189.55,178.88L189.50,178.89L189.35,178.95L189.30,178.98L189.25,179.01L189.20,179.03L189.15,179.06L189.10,179.09L189.05,179.11L189.00,179.13L188.95,179.14L188.90,179.15L188.85,179.14L188.80,179.13L188.75,179.10L188.70,179.06L188.65,179.01L188.60,178.95L188.55,178.88L188.50,178.80L188.45,178.72L188.40,178.63L188.35,178.54L188.30,178.44L188.25,178.35L188.20,178.26L188.15,178.17L188.10,178.08L187.95,177.82L187.90,177.75L187.85,177.67L187.50,177.21L187.15,176.84L186.80,176.53L186.45,176.24L186.40,176.20L186.35,176.16L186.30,176.12L186.25,176.08L186.20,176.04L186.15,176.01L186.10,175.97L186.05,175.93L186.00,175.89L185.95,175.86L185.60,175.60L185.55,175.56L185.50,175.53L185.45,175.49L185.40,175.45L185.35,175.42L185.30,175.38L185.25,175.35L185.20,175.31L185.15,175.28L184.40,174.75L184.35,174.71L184.30,174.68L184.25,174.64L184.20,174.61L184.15,174.58L184.10,174.54L184.05,174.51L184.00,174.47L183.95,174.44L183.90,174.40L183.75,174.30L183.40,174.06L183.05,173.82L183.00,173.78L182.95,173.75L182.90,173.71L182.85,173.68L182.80,173.64L182.75,173.61L182.70,173.57L182.65,173.54L182.60,173.50L182.55,173.47L182.50,173.44L182.35,173.33L182.30,173.30L182.25,173.26L182.20,173.23L182.15,173.19L182.10,173.16L182.05,173.13L182.00,173.09L181.95,173.06L181.80,172.95L181.75,172.92L181.70,172.88L181.65,172.85L181.60,172.82L181.55,172.78L181.50,172.75L181.45,172.71L181.40,172.68L181.35,172.64L181.00,172.40L180.85,172.30L180.80,172.26L180.75,172.23L180.70,172.19L180.65,172.16L180.60,172.13L180.55,172.09L180.50,172.06L180.45,172.02L180.10,171.78L179.75,171.54L179.60,171.43L179.45,171.33L179.40,171.29L179.35,171.26L179.30,171.23L179.15,171.12L178.40,170.60L178.25,170.49L177.50,169.97L177.45,169.94L177.40,169.90L177.35,169.87L177.30,169.83L177.25,169.80L177.20,169.76L177.15,169.73L177.00,169.62L176.95,169.59L176.80,169.48L176.75,169.45L176.70,169.41L176.65,169.38L176.60,169.34L176.55,169.31L176.50,169.27L176.45,169.23L176.40,169.20L176.35,169.16L176.30,169.13L176.25,169.09L176.20,169.06L176.15,169.02L176.10,168.99L176.05,168.95L176.00,168.92L175.95,168.88L175.90,168.85L175.85,168.81L175.80,168.78L175.75,168.74L175.70,168.71L175.65,168.67L175.60,168.64L175.55,168.60L175.50,168.57L175.45,168.53L175.40,168.50L175.35,168.46L175.30,168.43L175.25,168.39L175.20,168.35L175.15,168.32L175.10,168.28L175.05,168.25L175.00,168.21L174.95,168.18L174.90,168.14L174.75,168.04L174.70,168.00L174.65,167.97L174.60,167.93L174.55,167.90L174.50,167.86L174.45,167.82L174.40,167.79L174.35,167.75L174.30,167.72L174.25,167.68L174.20,167.65L174.15,167.61L174.10,167.58L174.05,167.54L173.90,167.43L173.85,167.40L173.80,167.36L173.75,167.33L173.70,167.29L173.65,167.26L173.60,167.22L173.55,167.19L173.50,167.15L173.45,167.12L173.40,167.08L173.35,167.04L173.30,167.01L173.25,166.97L173.20,166.94L173.15,166.90L173.10,166.87L173.05,166.83L173.00,166.80L172.95,166.76L172.90,166.72L172.85,166.69L172.80,166.65L172.75,166.62L172.70,166.58L172.65,166.55L172.60,166.51L172.55,166.48L172.50,166.44L172.45,166.40L172.40,166.37L172.35,166.33L172.30,166.30L172.25,166.26L172.20,166.23L172.15,166.19L172.10,166.15L172.05,166.12L172.00,166.08L171.95,166.05L171.90,166.01L171.85,165.98L171.80,165.94L171.75,165.91L171.70,165.87L171.65,165.83L171.60,165.80L171.55,165.76L171.50,165.73L171.45,165.69L171.40,165.66L171.35,165.62L171.30,165.58L171.25,165.55L171.20,165.51L171.15,165.48L171.10,165.44L171.05,165.41L171.00,165.37L170.95,165.33L170.80,165.23L170.75,165.19L170.70,165.16L170.65,165.12L170.50,165.01L170.45,164.98L170.40,164.94L170.35,164.91L170.30,164.87L170.25,164.84L170.20,164.80L170.15,164.77L170.00,164.66L169.95,164.62L169.90,164.59L169.85,164.55L169.80,164.52L169.75,164.48L169.70,164.45L169.65,164.41L169.60,164.38L169.55,164.34L169.50,164.30L169.45,164.27L169.40,164.23L169.35,164.20L169.30,164.16L169.25,164.13L169.20,164.09L169.15,164.06L169.10,164.02L169.05,163.99L169.00,163.95L168.95,163.92L168.90,163.88L168.85,163.85L168.80,163.81L168.75,163.78L168.70,163.74L168.65,163.71L168.60,163.67L168.55,163.64L168.50,163.60L168.45,163.57L168.40,163.53L168.35,163.50L168.30,163.46L168.25,163.43L168.20,163.40L168.15,163.36L168.10,163.33L168.05,163.29L168.00,163.26L167.95,163.22L167.90,163.19L167.85,163.16L167.80,163.12L167.75,163.09L167.70,163.06L167.65,163.02L167.60,162.99L167.45,162.89L167.40,162.86L167.35,162.82L167.30,162.79L167.25,162.76L167.20,162.73L167.15,162.69L167.10,162.66L167.05,162.63L166.90,162.54L166.85,162.51L166.80,162.48L166.75,162.45L166.70,162.42L166.65,162.39L166.60,162.36L166.55,162.33L166.40,162.24L166.35,162.22L166.30,162.19L166.25,162.16L166.20,162.14L166.15,162.11L166.10,162.09L166.05,162.06L166.00,162.04L165.95,162.02L165.80,161.95L165.75,161.94L165.70,161.92L165.65,161.90L165.60,161.88L165.55,161.87L165.50,161.86L165.35,161.82L165.30,161.82L165.25,161.81L165.20,161.81L165.15,161.81L165.10,161.81L165.05,161.81L165.00,161.82L164.95,161.83L164.90,161.84L164.85,161.85L164.80,161.87L164.75,161.89L164.70,161.91L164.65,161.93L164.60,161.96L164.55,161.99L164.50,162.02L164.45,162.06L164.40,162.10L164.35,162.13L164.30,162.17L164.25,162.21L164.20,162.25L164.15,162.28L164.10,162.31L164.05,162.33L164.00,162.35L163.95,162.36L163.90,162.36L163.85,162.35L163.80,162.33L163.75,162.30L163.70,162.26L163.65,162.21L163.60,162.14L163.55,162.07L163.50,161.98L163.45,161.89L163.40,161.79L163.35,161.69L163.30,161.58L163.25,161.47L163.20,161.35L163.15,161.24L163.10,161.13L163.05,161.02L163.00,160.91L162.95,160.80L162.90,160.69L162.85,160.59L162.80,160.49L162.75,160.39L162.70,160.30L162.65,160.21L162.60,160.12L162.55,160.03L162.50,159.95L162.45,159.87L162.40,159.79L162.35,159.71L162.30,159.64L162.25,159.57L162.20,159.50L162.15,159.43L162.10,159.36L162.05,159.30L162.00,159.23L161.95,159.17L161.90,159.11L161.85,159.05L161.70,158.88L161.65,158.82L161.60,158.77L161.55,158.72L161.50,158.66L161.45,158.61L161.40,158.56L161.35,158.51L161.30,158.46L161.15,158.31L161.10,158.26L161.05,158.22L161.00,158.17L160.95,158.12L160.90,158.08L160.85,158.03L160.80,157.98L160.75,157.94L160.70,157.89L160.65,157.85L160.60,157.80L160.55,157.76L160.50,157.72L160.45,157.67L160.40,157.63L160.35,157.59L160.30,157.54L160.25,157.50L160.20,157.46L160.15,157.41L160.10,157.37L160.05,157.33L160.00,157.29L159.95,157.24L159.90,157.20L159.85,157.16L159.80,157.12L159.75,157.08L159.70,157.04L159.65,156.99L159.60,156.95L159.55,156.91L159.50,156.87L159.45,156.83L159.40,156.79L159.25,156.66L159.20,156.62L159.15,156.58L159.10,156.54L159.05,156.50L159.00,156.46L158.95,156.42L158.90,156.38L158.75,156.26L158.70,156.22L158.65,156.18L158.60,156.14L158.55,156.10L158.50,156.06L158.45,156.02L158.40,155.98L158.35,155.94L158.30,155.90L158.25,155.86L158.20,155.82L158.15,155.78L158.10,155.74L158.05,155.70L158.00,155.66L157.95,155.62L157.90,155.58L157.85,155.54L157.80,155.50L157.75,155.46L157.70,155.42L157.65,155.38L157.50,155.26L157.45,155.22L157.40,155.18L157.35,155.14L157.30,155.10L157.25,155.06L157.20,155.02L157.15,154.98L157.10,154.94L157.05,154.90L157.00,154.86L156.95,154.82L156.90,154.78L156.85,154.74L156.80,154.70L156.75,154.66L156.70,154.62L156.65,154.58L156.60,154.54L156.55,154.50L156.50,154.46L156.45,154.43L156.40,154.39L156.35,154.35L156.30,154.31L156.25,154.27L156.20,154.23L156.15,154.19L156.10,154.15L156.05,154.11L156.00,154.07L155.95,154.03L155.90,153.99L155.85,153.95L155.80,153.91L155.75,153.87L155.70,153.83L155.65,153.79L155.60,153.75L155.55,153.71L155.50,153.67L155.45,153.63L155.40,153.59L155.35,153.55L155.30,153.51L155.25,153.47L155.20,153.43L155.15,153.39L155.10,153.35L155.05,153.31L155.00,153.27L154.95,153.23L154.90,153.20L154.85,153.16L154.80,153.12L154.75,153.08L154.70,153.04L154.65,153.00L154.60,152.96L154.55,152.92L154.50,152.88L154.45,152.84L154.40,152.80L154.35,152.76L154.30,152.72L154.25,152.68L154.20,152.64L154.15,152.60L154.10,152.56L154.05,152.52L154.00,152.48L153.95,152.44L153.90,152.40L153.85,152.36L153.80,152.32L153.75,152.28L153.70,152.24L153.65,152.20L153.60,152.16L153.55,152.12L153.50,152.08L153.45,152.04L153.40,152.00L153.35,151.96L153.30,151.92L153.25,151.88L153.20,151.84L153.15,151.80L153.10,151.76L153.05,151.72L152.90,151.60L152.75,151.48L152.70,151.44L152.65,151.40L152.50,151.28L152.45,151.24L152.40,151.20L152.35,151.16L152.30,151.12L152.25,151.08L152.20,151.04L152.15,151.00L152.10,150.96L152.05,150.92L152.00,150.88L151.95,150.84L151.90,150.80L151.85,150.76L151.80,150.72L151.75,150.68L151.70,150.64L151.65,150.60L151.60,150.56L151.55,150.52L151.50,150.48L151.45,150.44L151.40,150.40L151.35,150.36L151.30,150.32L151.25,150.28L151.20,150.24L151.15,150.20L151.10,150.16L151.05,150.11L150.90,149.99L150.75,149.87L150.70,149.83L150.65,149.79L150.60,149.75L150.55,149.71L150.50,149.67L150.45,149.63L150.40,149.59L150.35,149.55L150.20,149.43L150.15,149.39L150.10,149.35L150.05,149.31L150.00,149.27L149.95,149.23L149.90,149.18L149.85,149.14L149.80,149.10L149.65,148.98L149.60,148.94L149.55,148.90L149.50,148.86L149.45,148.82L149.40,148.78L149.35,148.74L149.30,148.70L149.25,148.66L149.20,148.62L149.15,148.58L149.10,148.54L149.05,148.49L149.00,148.45L148.95,148.41L148.90,148.37L148.85,148.33L148.80,148.29L148.75,148.25L148.70,148.21L148.65,148.17L148.60,148.13L148.55,148.09L148.50,148.05L148.45,148.01L148.40,147.96L148.35,147.92L148.30,147.88L148.25,147.84L148.20,147.80L148.15,147.76L148.10,147.72L148.05,147.68L148.00,147.64L147.95,147.60L147.90,147.56L147.85,147.51L147.80,147.47L147.75,147.43L147.70,147.39L147.65,147.35L147.60,147.31L147.55,147.27L147.50,147.23L147.45,147.19L147.40,147.15L147.35,147.10L147.30,147.06L147.25,147.02L147.20,146.98L147.15,146.94L147.10,146.90L147.05,146.86L147.00,146.82L146.95,146.78L146.90,146.73L146.85,146.69L146.80,146.65L146.75,146.61L146.70,146.57L146.65,146.53L146.60,146.49L146.55,146.45L146.50,146.40L146.45,146.36L146.40,146.32L146.35,146.28L146.30,146.24L146.25,146.20L146.20,146.16L146.15,146.12L146.10,146.07L146.05,146.03L146.00,145.99L145.95,145.95L145.90,145.91L145.85,145.87L145.80,145.83L145.75,145.78L145.70,145.74L145.65,145.70L145.60,145.66L145.55,145.62L145.50,145.58L145.45,145.54L145.40,145.49L145.35,145.45L145.30,145.41L145.25,145.37L145.20,145.33L145.15,145.29L145.10,145.25L145.05,145.20L145.00,145.16L144.95,145.12L144.90,145.08L144.85,145.04L144.80,145.00L144.75,144.95L144.70,144.91L144.55,144.79L144.50,144.75L144.45,144.71L144.40,144.66L144.35,144.62L144.30,144.58L144.25,144.54L144.20,144.50L144.15,144.45L144.10,144.41L144.05,144.37L144.00,144.33L143.95,144.29L143.90,144.25L143.85,144.20L143.70,144.08L143.65,144.04L143.60,144.00L143.55,143.95L143.50,143.91L143.45,143.87L143.40,143.83L143.35,143.79L143.30,143.74L143.25,143.70L143.20,143.66L143.15,143.62L143.10,143.58L143.05,143.53L142.90,143.41L142.85,143.37L142.80,143.32L142.75,143.28L142.70,143.24L142.65,143.20L142.60,143.16L142.55,143.11L142.50,143.07L142.45,143.03L142.40,142.99L142.35,142.95L142.30,142.90L142.25,142.86L142.20,142.82L142.15,142.78L142.10,142.73L142.05,142.69L142.00,142.65L141.95,142.61L141.90,142.57L141.85,142.52L141.80,142.48L141.75,142.44L141.70,142.40L141.65,142.35L141.60,142.31L141.55,142.27L141.50,142.23L141.45,142.19L141.40,142.14L141.35,142.10L141.30,142.06L141.25,142.02L141.20,141.97L141.15,141.93L141.10,141.89L141.05,141.85L141.00,141.80L140.95,141.76L140.90,141.72L140.85,141.68L140.80,141.63L140.75,141.59L140.70,141.55L140.65,141.51L140.60,141.46L140.45,141.34L140.40,141.29L140.35,141.25L140.30,141.21L140.25,141.17L140.20,141.12L140.15,141.08L140.10,141.04L140.05,141.00L140.00,140.95L139.95,140.91L139.90,140.87L139.75,140.74L139.70,140.70L139.65,140.65L139.60,140.61L139.55,140.57L139.50,140.53L139.45,140.48L139.40,140.44L139.35,140.40L139.30,140.35L139.25,140.31L139.20,140.27L139.15,140.23L139.10,140.18L139.05,140.14L139.00,140.10L138.95,140.06L138.90,140.01L138.85,139.97L138.80,139.93L138.75,139.88L138.70,139.84L138.55,139.71L138.50,139.67L138.45,139.63L138.40,139.58L138.35,139.54L138.30,139.50L138.25,139.45L138.20,139.41L138.15,139.37L138.10,139.32L138.05,139.28L138.00,139.24L137.95,139.20L137.90,139.15L137.85,139.11L137.80,139.07L137.75,139.02L137.70,138.98L137.65,138.94L137.60,138.89L137.55,138.85L137.50,138.81L137.45,138.76L137.40,138.72L137.35,138.68L137.30,138.63L137.25,138.59L137.10,138.46L137.05,138.42L137.00,138.37L136.95,138.33L136.90,138.29L136.85,138.24L136.80,138.20L136.75,138.16L136.70,138.11L136.65,138.07L136.60,138.03L136.55,137.98L136.50,137.94L136.45,137.90L136.40,137.85L136.35,137.81L136.30,137.77L136.25,137.72L136.20,137.68L136.15,137.64L136.10,137.59L136.05,137.55L136.00,137.51L135.95,137.46L135.90,137.42L135.85,137.38L135.80,137.33L135.65,137.20L135.60,137.16L135.55,137.11L135.50,137.07L135.45,137.03L135.40,136.98L135.35,136.94L135.30,136.90L135.25,136.85L135.20,136.81L135.05,136.68L135.00,136.63L134.95,136.59L134.90,136.55L134.85,136.50L134.80,136.46L134.75,136.41L134.70,136.37L134.55,136.24L134.50,136.20L134.45,136.15L134.40,136.11L134.35,136.06L134.30,136.02L134.25,135.98L134.20,135.93L134.15,135.89L134.00,135.76L133.95,135.71L133.90,135.67L133.85,135.62L133.80,135.58L133.75,135.54L133.70,135.49L133.65,135.45L133.60,135.40L133.45,135.27L133.40,135.23L133.35,135.18L133.30,135.14L133.25,135.10L133.20,135.05L133.15,135.01L133.10,134.96L133.05,134.92L133.00,134.88L132.95,134.83L132.90,134.79L132.75,134.65L132.70,134.61L132.65,134.57L132.60,134.52L132.55,134.48L132.50,134.43L132.45,134.39L132.40,134.34L132.35,134.30L132.20,134.17L132.15,134.12L132.10,134.08L132.05,134.03L132.00,133.99L131.95,133.95L131.90,133.90L131.85,133.86L131.80,133.81L131.75,133.77L131.70,133.72L131.65,133.68L131.60,133.63L131.55,133.59L131.50,133.55L131.45,133.50L131.40,133.46L131.35,133.41L131.30,133.37L131.25,133.32L131.20,133.28L131.15,133.23L131.10,133.19L131.05,133.15L131.00,133.10L130.95,133.06L130.90,133.01L130.85,132.97L130.80,132.92L130.75,132.88L130.70,132.83L130.65,132.79L130.60,132.74L130.55,132.70L130.50,132.65L130.45,132.61L130.40,132.57L130.35,132.52L130.30,132.48L130.25,132.43L130.20,132.39L130.15,132.34L130.10,132.30L130.05,132.25L130.00,132.21L129.95,132.16L129.90,132.12L129.85,132.07L129.80,132.03L129.75,131.98L129.70,131.94L129.65,131.89L129.60,131.85L129.55,131.80L129.50,131.76L129.45,131.71L129.40,131.67L129.35,131.63L129.30,131.58L129.15,131.45L129.10,131.40L129.05,131.36L129.00,131.31L128.95,131.27L128.90,131.22L128.85,131.18L128.80,131.13L128.75,131.09L128.70,131.04L128.65,131.00L128.60,130.95L128.55,130.91L128.40,130.77L128.35,130.73L128.30,130.68L128.25,130.64L128.20,130.59L128.15,130.55L128.10,130.50L128.05,130.46L128.00,130.41L127.95,130.37L127.90,130.32L127.85,130.28L127.80,130.23L127.75,130.19L127.70,130.14L127.65,130.10L127.60,130.05L127.55,130.01L127.50,129.96L127.45,129.92L127.40,129.87L127.35,129.83L127.30,129.78L127.25,129.74L127.20,129.69L127.15,129.65L127.10,129.60L127.05,129.56L127.00,129.51L126.95,129.47L126.90,129.42L126.85,129.38L126.80,129.33L126.75,129.29L126.70,129.24L126.65,129.20L126.60,129.15L126.55,129.11L126.50,129.06L126.45,129.02L126.40,128.97L126.35,128.93L126.30,128.88L126.25,128.84L126.20,128.79L126.15,128.75L126.10,128.70L126.05,128.66L126.00,128.61L125.95,128.57L125.90,128.52L125.85,128.48L125.80,128.43L125.75,128.39L125.70,128.34L125.65,128.30L125.60,128.25L125.45,128.12L125.40,128.07L125.35,128.03L125.30,127.98L125.25,127.94L125.20,127.89L125.15,127.85L125.10,127.80L124.95,127.67L124.90,127.62L124.85,127.58L124.80,127.53L124.75,127.49L124.70,127.44L124.65,127.40L124.60,127.35L124.55,127.31L124.50,127.26L124.35,127.13L124.30,127.09L124.25,127.04L124.20,127.00L124.15,126.95L124.10,126.91L124.05,126.86L124.00,126.82L123.95,126.78L123.90,126.73L123.75,126.60L123.70,126.55L123.65,126.51L123.60,126.47L123.55,126.42L123.50,126.38L123.45,126.34L123.40,126.29L123.35,126.25L123.30,126.20L123.25,126.16L123.20,126.12L123.15,126.07L123.10,126.03L123.05,125.99L123.00,125.94L122.95,125.90L122.90,125.86L122.85,125.82L122.80,125.77L122.75,125.73L122.70,125.69L122.65,125.64L122.60,125.60L122.55,125.56L122.50,125.52L122.45,125.48L122.40,125.43L122.35,125.39L122.30,125.35L122.25,125.31L122.20,125.27L122.15,125.23L122.10,125.18L122.05,125.14L122.00,125.10L121.95,125.06L121.90,125.02L121.85,124.98L121.80,124.94L121.75,124.90L121.70,124.86L121.65,124.82L121.60,124.78L121.55,124.75L121.50,124.71L121.45,124.67L121.40,124.63L121.35,124.59L121.30,124.56L121.25,124.52L121.20,124.48L121.15,124.45L121.10,124.41L121.05,124.38L121.00,124.34L120.95,124.31L120.90,124.27L120.85,124.24L120.80,124.20L120.75,124.17L120.70,124.14L120.65,124.11L120.50,124.02L120.35,123.93L120.20,123.85L119.85,123.70L119.50,123.61L119.45,123.60L119.40,123.60L119.35,123.59L119.30,123.59L119.25,123.59L119.20,123.59L119.15,123.59L119.10,123.59L119.05,123.59L119.00,123.60L118.95,123.61L118.90,123.61L118.85,123.62L118.80,123.63L118.75,123.64L118.70,123.65L118.65,123.66L118.60,123.67L118.55,123.69L118.50,123.70L118.45,123.70L118.40,123.71L118.35,123.72L118.30,123.72L118.25,123.72L118.20,123.71L118.15,123.71L118.10,123.69L118.05,123.68L118.00,123.66L117.95,123.63L117.90,123.60L117.85,123.56L117.80,123.51L117.75,123.46L117.70,123.41L117.65,123.34L117.60,123.28L117.55,123.20L117.50,123.12L117.45,123.04L117.40,122.95L117.35,122.86L117.30,122.77L117.25,122.67L117.20,122.57L117.15,122.47L117.10,122.36L117.05,122.26L117.00,122.15L116.95,122.05L116.90,121.94L116.85,121.83L116.80,121.73L116.75,121.62L116.70,121.52L116.65,121.41L116.60,121.31L116.55,121.21L116.50,121.11L116.45,121.01L116.40,120.91L116.35,120.82L116.30,120.72L116.25,120.63L116.10,120.36L115.95,120.10L115.80,119.86L115.75,119.78L115.70,119.70L115.65,119.62L115.60,119.55L115.55,119.47L115.50,119.40L115.45,119.33L115.40,119.26L115.25,119.04L115.20,118.98L115.15,118.91L115.10,118.84L115.05,118.77L115.00,118.71L114.95,118.64L114.90,118.58L114.85,118.51L114.80,118.45L114.75,118.39L114.70,118.33L114.65,118.26L114.60,118.20L114.55,118.14L114.50,118.08L114.45,118.02L114.40,117.96L114.35,117.90L114.30,117.84L114.25,117.78L114.20,117.72L114.15,117.67L114.10,117.61L114.05,117.55L113.90,117.38L113.85,117.32L113.80,117.27L113.75,117.21L113.70,117.15L113.65,117.10L113.60,117.04L113.55,116.99L113.50,116.93L113.45,116.88L113.40,116.82L113.35,116.77L113.30,116.71L113.25,116.66L113.20,116.60L113.15,116.55L113.10,116.49L113.05,116.44L113.00,116.39L112.95,116.33L112.90,116.28L112.85,116.23L112.80,116.17L112.75,116.12L112.70,116.07L112.65,116.01L112.60,115.96L112.55,115.91L112.50,115.86L112.45,115.80L112.40,115.75L112.35,115.70L112.30,115.65L112.15,115.49L112.10,115.44L112.05,115.39L112.00,115.33L111.95,115.28L111.90,115.23L111.85,115.18L111.80,115.13L111.75,115.07L111.70,115.02L111.65,114.97L111.60,114.92L111.55,114.87L111.50,114.82L111.35,114.66L111.30,114.61L111.25,114.56L111.20,114.51L111.15,114.46L111.10,114.41L111.05,114.36L111.00,114.31L110.95,114.25L110.90,114.20L110.85,114.15L110.80,114.10L110.75,114.05L110.70,114.00L110.65,113.95L110.60,113.90L110.55,113.85L110.50,113.80L110.45,113.75L110.40,113.70L110.35,113.65L110.30,113.60L110.25,113.55L110.20,113.50L110.15,113.45L110.10,113.40L110.05,113.35L110.00,113.30L109.95,113.25L109.90,113.20L109.85,113.15L109.80,113.10L109.75,113.05L109.70,113.00L109.55,112.85L109.50,112.80L109.45,112.75L109.40,112.70L109.35,112.65L109.30,112.60L109.25,112.55L109.20,112.51L109.05,112.36L108.90,112.21L108.85,112.17L108.80,112.12L108.75,112.07L108.70,112.02L108.65,111.97L108.60,111.93L108.55,111.88L108.50,111.83L108.45,111.78L108.40,111.74L108.35,111.69L108.30,111.64L108.25,111.60L108.20,111.55L108.15,111.50L108.10,111.46L108.05,111.41L108.00,111.37L107.95,111.32L107.90,111.28L107.85,111.23L107.80,111.19L107.65,111.06L107.60,111.02L107.55,110.98L107.50,110.93L107.45,110.89L107.40,110.85L107.35,110.81L107.30,110.77L107.25,110.74L107.20,110.70L107.15,110.66L107.10,110.63L107.05,110.59L107.00,110.56L106.85,110.46L106.80,110.43L106.75,110.40L106.60,110.33L106.45,110.27L106.40,110.25L106.35,110.24L106.30,110.23L106.25,110.22L106.20,110.22L106.15,110.22L106.10,110.22L106.05,110.23L106.00,110.23L105.95,110.25L105.90,110.26L105.85,110.29L105.80,110.31L105.75,110.34L105.70,110.37L105.65,110.40L105.60,110.43L105.55,110.47L105.50,110.50L105.45,110.53L105.40,110.56L105.35,110.59L105.30,110.60L105.25,110.61L105.20,110.61L105.15,110.59L105.10,110.56L105.05,110.52L105.00,110.46L104.95,110.39L104.90,110.30L104.85,110.20L104.80,110.09L104.75,109.97L104.70,109.85L104.65,109.71L104.60,109.58L104.55,109.44L104.50,109.30L104.45,109.17L104.40,109.03L104.35,108.90L104.30,108.77L104.25,108.64L104.20,108.52L104.15,108.40L104.10,108.28L104.05,108.17L104.00,108.06L103.95,107.95L103.90,107.85L103.85,107.75L103.80,107.65L103.75,107.56L103.40,106.97L103.05,106.46L103.00,106.39L102.95,106.32L102.90,106.26L102.85,106.19L102.80,106.13L102.75,106.06L102.70,106.00L102.65,105.94L102.60,105.87L102.55,105.81L102.40,105.63L102.35,105.57L102.30,105.51L102.25,105.45L102.20,105.39L102.15,105.33L102.10,105.27L102.05,105.22L102.00,105.16L101.95,105.10L101.90,105.04L101.85,104.99L101.80,104.93L101.65,104.76L101.60,104.70L101.55,104.65L101.50,104.59L101.45,104.54L101.40,104.48L101.35,104.43L101.30,104.37L101.25,104.32L101.20,104.26L101.15,104.21L101.10,104.15L101.05,104.10L101.00,104.04L100.95,103.99L100.90,103.93L100.85,103.88L100.80,103.83L100.75,103.77L100.70,103.72L100.65,103.66L100.60,103.61L100.55,103.56L100.50,103.50L100.45,103.45L100.40,103.40L100.35,103.34L100.30,103.29L100.25,103.24L100.20,103.19L100.15,103.13L100.10,103.08L100.05,103.03L100.00,102.98L99.95,102.92L99.90,102.87L99.85,102.82L99.80,102.77L99.75,102.71L99.70,102.66L99.55,102.51L99.50,102.46L99.45,102.40L99.40,102.35L99.35,102.30L99.30,102.25L99.25,102.20L99.20,102.15L99.15,102.10L99.10,102.05L99.05,102.00L99.00,101.95L98.95,101.90L98.80,101.75L98.65,101.61L98.60,101.56L98.55,101.51L98.50,101.46L98.45,101.42L98.30,101.28L98.25,101.23L98.20,101.19L98.15,101.14L98.10,101.10L98.05,101.05L98.00,101.01L97.95,100.96L97.90,100.92L97.85,100.88L97.80,100.83L97.75,100.79L97.70,100.75L97.65,100.71L97.60,100.67L97.55,100.63L97.50,100.59L97.45,100.55L97.40,100.51L97.35,100.48L97.30,100.44L97.25,100.41L97.20,100.37L97.05,100.28L97.00,100.25L96.95,100.22L96.90,100.20L96.85,100.17L96.80,100.15L96.75,100.13L96.70,100.11L96.65,100.09L96.60,100.08L96.55,100.07L96.50,100.06L96.35,100.04L96.20,100.06L96.15,100.07L96.10,100.09L96.05,100.11L96.00,100.13L95.95,100.16L95.90,100.19L95.85,100.23L95.80,100.26L95.75,100.31L95.70,100.35L95.65,100.40L95.60,100.45L95.55,100.50L95.50,100.55L95.45,100.60L95.40,100.64L95.35,100.68L95.30,100.71L95.25,100.73L95.20,100.74L95.15,100.74L95.10,100.73L95.05,100.70L95.00,100.65L94.95,100.59L94.90,100.51L94.85,100.42L94.80,100.32L94.75,100.20L94.70,100.07L94.65,99.93L94.60,99.78L94.55,99.63L94.50,99.48L94.45,99.32L94.40,99.16L94.35,99.01L94.30,98.85L94.25,98.70L94.20,98.55L94.15,98.40L94.10,98.25L94.05,98.11L94.00,97.98L93.95,97.85L93.90,97.72L93.85,97.59L93.80,97.47L93.75,97.36L93.70,97.24L93.65,97.13L93.60,97.03L93.55,96.92L93.50,96.82L93.45,96.72L93.40,96.63L93.35,96.53L93.30,96.44L93.25,96.35L93.20,96.26L93.15,96.18L93.10,96.09L93.05,96.01L93.00,95.93L92.95,95.85L92.90,95.78L92.85,95.70L92.80,95.63L92.75,95.56L92.70,95.49L92.65,95.42L92.60,95.35L92.55,95.28L92.50,95.21L92.35,95.02L92.00,94.58L91.95,94.51L91.90,94.45L91.85,94.39L91.80,94.33L91.75,94.27L91.70,94.21L91.65,94.15L91.60,94.10L91.55,94.04L91.40,93.86L91.05,93.46L90.90,93.29L90.85,93.24L90.80,93.18L90.75,93.12L90.70,93.07L90.65,93.01L90.60,92.96L90.55,92.90L90.50,92.84L90.45,92.79L90.30,92.62L90.25,92.57L90.20,92.51L90.15,92.46L90.10,92.40L90.05,92.35L90.00,92.29L89.95,92.24L89.90,92.18L89.85,92.13L89.70,91.97L89.35,91.59L89.30,91.53L89.25,91.48L89.20,91.42L89.15,91.37L89.10,91.31L89.05,91.26L89.00,91.21L88.95,91.15L88.90,91.10L88.85,91.04L88.80,90.99L88.75,90.94L88.70,90.88L88.65,90.83L88.60,90.77L88.55,90.72L88.40,90.56L88.35,90.50L88.30,90.45L88.25,90.40L88.20,90.34L88.15,90.29L88.10,90.23L88.05,90.18L87.90,90.01L87.75,89.85L87.70,89.79L87.65,89.73L87.60,89.68L87.55,89.62L87.50,89.57L87.35,89.40L87.30,89.34L87.25,89.29L87.10,89.12L86.95,88.95L86.90,88.89L86.85,88.84L86.80,88.78L86.75,88.72L86.70,88.67L86.65,88.61L86.60,88.56L86.55,88.50L86.50,88.44L86.45,88.39L86.40,88.33L86.35,88.28L86.30,88.22L86.25,88.16L86.20,88.11L86.15,88.05L86.10,87.99L86.05,87.94L86.00,87.88L85.95,87.83L85.90,87.77L85.85,87.71L85.80,87.66L85.75,87.60L85.70,87.54L85.65,87.49L85.60,87.43L85.55,87.38L85.50,87.32L85.45,87.26L85.40,87.21L85.35,87.15L85.30,87.09L85.25,87.04L85.20,86.98L85.15,86.93L85.10,86.87L85.05,86.81L85.00,86.76L84.95,86.70L84.90,86.64L84.85,86.59L84.80,86.53L84.75,86.47L84.70,86.42L84.65,86.36L84.60,86.30L84.55,86.25L84.50,86.19L84.15,85.80L84.10,85.74L84.05,85.68L84.00,85.63L83.85,85.46L83.80,85.40L83.75,85.34L83.70,85.28L83.65,85.23L83.60,85.17L83.55,85.11L83.50,85.06L83.45,85.00L83.40,84.94L83.25,84.77L83.20,84.72L83.15,84.66L83.10,84.60L82.95,84.43L82.90,84.38L82.85,84.32L82.50,83.92L82.45,83.86L82.40,83.80L82.35,83.75L82.30,83.69L82.25,83.63L82.20,83.58L82.15,83.52L82.10,83.46L82.05,83.40L82.00,83.35L81.85,83.18L81.80,83.12L81.75,83.06L81.70,83.00L81.65,82.95L81.60,82.89L81.55,82.83L81.50,82.77L81.45,82.72L81.40,82.66L81.35,82.60L81.30,82.54L81.25,82.49L81.20,82.43L81.15,82.37L81.10,82.31L81.05,82.26L81.00,82.20L80.95,82.14L80.90,82.08L80.85,82.03L80.80,81.97L80.75,81.91L80.70,81.85L80.65,81.80L80.60,81.74L80.55,81.68L80.50,81.62L80.45,81.57L80.40,81.51L80.35,81.45L80.30,81.39L80.25,81.33L80.20,81.28L80.15,81.22L80.10,81.16L80.05,81.10L80.00,81.05L79.95,80.99L79.90,80.93L79.85,80.87L79.80,80.81L79.75,80.75L79.70,80.69L79.65,80.64L79.60,80.58L79.55,80.52L79.50,80.46L79.45,80.40L79.40,80.34L79.35,80.28L79.30,80.22L79.25,80.17L79.20,80.11L79.15,80.05L79.10,79.99L79.05,79.93L79.00,79.87L78.95,79.81L78.90,79.75L78.85,79.70L78.80,79.64L78.75,79.58L78.60,79.40L78.55,79.34L78.50,79.28L78.45,79.22L78.40,79.17L78.35,79.11L78.30,79.05L78.25,78.99L78.20,78.93L78.15,78.87L78.00,78.69L77.85,78.52L77.80,78.46L77.75,78.40L77.70,78.34L77.65,78.28L77.60,78.22L77.55,78.16L77.50,78.10L77.45,78.04L77.40,77.98L77.35,77.92L77.30,77.86L77.15,77.68L77.10,77.63L77.05,77.57L77.00,77.51L76.95,77.45L76.90,77.39L76.85,77.33L76.80,77.27L76.75,77.21L76.70,77.15L76.65,77.09L76.60,77.03L76.55,76.97L76.50,76.91L76.45,76.85L76.40,76.79L76.35,76.73L76.30,76.67L76.25,76.61L76.20,76.55L76.15,76.49L76.10,76.43L76.05,76.37L76.00,76.31L75.95,76.25L75.90,76.19L75.85,76.13L75.80,76.07L75.75,76.01L75.70,75.95L75.65,75.89L75.60,75.83L75.55,75.77L75.50,75.71L75.45,75.65L75.40,75.59L75.35,75.53L75.30,75.47L75.25,75.41L75.20,75.35L75.15,75.29L75.10,75.23L75.05,75.17L75.00,75.11L74.95,75.05L74.90,74.99L74.85,74.93L74.80,74.87L74.65,74.69L74.60,74.63L74.55,74.57L74.40,74.39L74.35,74.33L74.30,74.27L74.15,74.09L74.00,73.91L73.95,73.85L73.90,73.79L73.75,73.60L73.70,73.54L73.65,73.48L73.60,73.42L73.55,73.36L73.50,73.30L73.45,73.24L73.40,73.18L73.35,73.12L73.30,73.06L73.25,73.00L73.20,72.94L73.15,72.88L73.10,72.81L73.05,72.75L73.00,72.69L72.95,72.63L72.90,72.57L72.85,72.51L72.80,72.45L72.75,72.39L72.70,72.33L72.65,72.27L72.60,72.21L72.55,72.14L72.50,72.08L72.35,71.90L72.30,71.84L72.25,71.78L72.10,71.59L72.05,71.53L72.00,71.47L71.95,71.41L71.80,71.23L71.75,71.17L71.70,71.10L71.65,71.04L71.60,70.98L70.85,70.06L70.80,70.00L70.75,69.94L70.70,69.87L70.65,69.81L70.60,69.75L70.55,69.69L70.50,69.63L70.45,69.57L70.40,69.50L70.35,69.44L70.20,69.26L70.15,69.19L70.10,69.13L70.05,69.07L70.00,69.01L69.95,68.95L69.90,68.88L69.85,68.82L69.80,68.76L69.75,68.70L69.70,68.64L69.65,68.57L69.60,68.51L69.55,68.45L69.50,68.39L69.45,68.33L69.40,68.26L69.35,68.20L69.30,68.14L69.25,68.08L69.20,68.02L69.15,67.95L69.10,67.89L69.05,67.83L69.00,67.77L68.95,67.70L68.90,67.64L68.85,67.58L68.80,67.52L68.75,67.45L68.70,67.39L68.65,67.33L68.60,67.27L68.55,67.20L68.50,67.14L68.35,66.95L68.20,66.77L68.15,66.70L68.10,66.64L68.05,66.58L68.00,66.52L67.95,66.46L67.90,66.40L67.85,66.33L67.80,66.27L67.75,66.21L67.70,66.15L67.55,65.97L67.50,65.91L67.45,65.85L67.40,65.79L67.35,65.73L67.30,65.67L67.25,65.61L67.20,65.54L67.15,65.48L67.10,65.42L67.05,65.36L67.00,65.30L66.95,65.24L66.90,65.18L66.85,65.12L66.80,65.06L66.75,65.00L66.70,64.93L66.65,64.87L66.60,64.81L66.55,64.75L66.50,64.69L66.45,64.63L66.40,64.57L66.35,64.51L66.30,64.45L66.25,64.38L66.20,64.32L66.15,64.26L66.10,64.20L66.05,64.14L66.00,64.08L65.95,64.02L65.90,63.96L65.85,63.89L65.80,63.83L65.75,63.77L65.70,63.71L65.65,63.65L65.60,63.59L65.55,63.53L65.50,63.46L65.35,63.28L65.30,63.22L65.25,63.16L65.20,63.09L65.15,63.03L65.10,62.97L65.05,62.91L65.00,62.85L64.95,62.79L64.90,62.72L64.85,62.66L64.80,62.60L64.75,62.54L64.70,62.48L64.65,62.42L64.60,62.35L64.55,62.29L64.50,62.23L64.45,62.17L64.40,62.11L64.35,62.04L64.30,61.98L64.25,61.92L64.20,61.86L64.15,61.80L64.10,61.73L64.05,61.67L64.00,61.61L63.95,61.55L63.90,61.49L63.85,61.42L63.80,61.36L63.75,61.30L63.70,61.24L63.65,61.17L63.60,61.11L63.55,61.05L63.50,60.99Z" fill="#0000ff" stroke="#0000ff" stroke-width="1.25"/>
</g>
<path d="M100.50,344.5v-4.0M100.50,33.5v4.0M194.50,344.5v-4.0M194.50,33.5v4.0M288.50,344.5v-4.0M288.50,33.5v4.0M381.50,344.5v-4.0M381.50,33.5v4.0M475.50,344.5v-4.0M475.50,33.5v4.0M568.50,344.5v-4.0M568.50,33.5v4.0M662.50,344.5v-4.0M662.50,33.5v4.0M755.50,344.5v-4.0M755.50,33.5v4.0M849.50,344.5v-4.0M849.50,33.5v4.0M63.5,336.50h4.0M849.5,336.50h-4.0M63.5,284.50h4.0M849.5,284.50h-4.0M63.5,232.50h4.0M849.5,232.50h-4.0M63.5,181.50h4.0M849.5,181.50h-4.0M63.5,129.50h4.0M849.5,129.50h-4.0M63.5,77.50h4.0M849.5,77.50h-4.0" stroke="#000" stroke-width="0.56" fill="none"/>
<rect x="63.5" y="33.5" width="786.0" height="311.0" fill="none" stroke="#000" stroke-width="1.11"/>
<text transform="translate(100.08,358.10) scale(1,0.925)" text-anchor="middle" letter-spacing="-0.45">4000</text>
<text transform="translate(194.25,358.10) scale(1,0.925)" text-anchor="middle" letter-spacing="-0.45">4500</text>
<text transform="translate(286.82,358.10) scale(1,0.925)" text-anchor="middle" letter-spacing="-0.45">5000</text>
<text transform="translate(380.29,358.10) scale(1,0.925)" text-anchor="middle" letter-spacing="-0.45">5500</text>
<text transform="translate(475.06,358.10) scale(1,0.925)" text-anchor="middle" letter-spacing="-0.45">6000</text>
<text transform="translate(568.24,358.10) scale(1,0.925)" text-anchor="middle" letter-spacing="-0.45">6500</text>
<text transform="translate(661.21,358.10) scale(1,0.925)" text-anchor="middle" letter-spacing="-0.45">7000</text>
<text transform="translate(755.28,358.10) scale(1,0.925)" text-anchor="middle" letter-spacing="-0.45">7500</text>
<text transform="translate(849.25,358.10) scale(1,0.925)" text-anchor="middle" letter-spacing="-0.45">8000</text>
<text transform="translate(58.80,340.10) scale(1,0.925)" text-anchor="end" letter-spacing="-0.45">0.0</text>
<text transform="translate(58.80,288.30) scale(1,0.925)" text-anchor="end" letter-spacing="-0.45">0.5</text>
<text transform="translate(58.80,235.50) scale(1,0.925)" text-anchor="end" letter-spacing="-0.45">1.0</text>
<text transform="translate(58.80,183.70) scale(1,0.925)" text-anchor="end" letter-spacing="-0.45">1.5</text>
<text transform="translate(58.80,131.90) scale(1,0.925)" text-anchor="end" letter-spacing="-0.45" dx="0 0.8">2.0</text>
<text transform="translate(58.80,80.10) scale(1,0.925)" text-anchor="end" letter-spacing="-0.45" dx="0 0.8">2.5</text>
<text transform="translate(62.00,30.00) scale(1,0.925)" letter-spacing="-0.26">1e−10</text>
<text class="t" transform="translate(347.00,28.20)">model2254: L/L<tspan class="s" font-size="11.2" fill="#333" dx="1.3" dy="4.2">⊙</tspan><tspan dx="0.36" dy="-4.2"> = 225000</tspan></text>
<text transform="translate(400.30,380.80) scale(1,0.925)">Wavelength [ <tspan class="a" font-size="15.5">Å</tspan><tspan dx="-1.4"> ]</tspan></text>
<text transform="translate(27.00,284.50) rotate(-90) scale(1,0.925)"><tspan letter-spacing="0.05">Flux at 1 kpc [ erg/s/cm</tspan><tspan class="a" font-size="10" dx="-0.75" dy="-7.0">2</tspan><tspan dy="7.0" dx="4.65">/</tspan><tspan class="a" font-size="15.5" dx="-1.6">Å</tspan><tspan dx="-0.2"> ]</tspan></text>
</svg>
</body>
</html>
